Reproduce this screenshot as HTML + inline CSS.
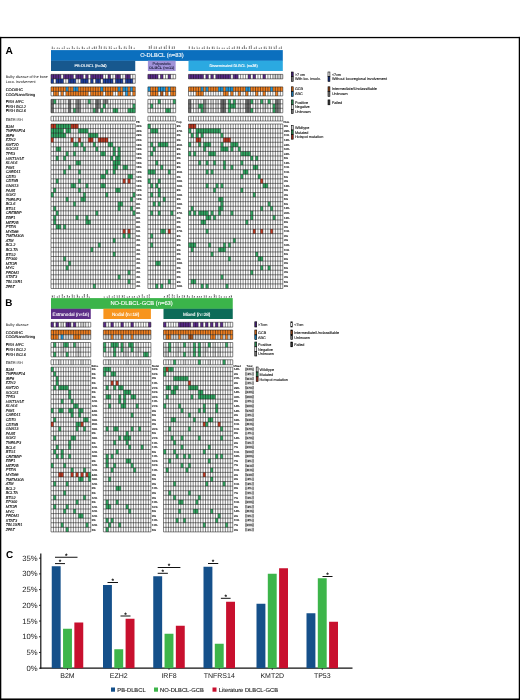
<!DOCTYPE html>
<html lang="en"><head><meta charset="utf-8"><title>Figure</title>
<style>html,body{margin:0;padding:0;background:#fff}svg{display:block}</style>
</head><body>
<svg width="520" height="700" viewBox="0 0 520 700" font-family='"Liberation Sans", sans-serif' text-rendering="geometricPrecision">
<rect x="0" y="0" width="520" height="700" fill="#fff"/>
<rect x="0" y="36.9" width="520" height="1.3" fill="#000"/>
<rect x="0" y="698.45" width="520" height="1.55" fill="#000"/>
<rect x="0" y="36.9" width="1.3" height="663.1" fill="#000"/>
<rect x="518.75" y="36.9" width="1.25" height="663.1" fill="#000"/>
<text x="5.6" y="53.9" font-size="10.2" fill="#000" font-weight="bold">A</text>
<text x="5.2" y="305.6" font-size="9.9" fill="#000" font-weight="bold">B</text>
<text x="5.9" y="557.7" font-size="9.9" fill="#000" font-weight="bold">C</text>
<text transform="translate(52.89 48.7) rotate(-90)" font-size="1.75" font-weight="bold" fill="#000">B6</text>
<text transform="translate(55.37 48.7) rotate(-90)" font-size="1.75" font-weight="bold" fill="#000">P</text>
<text transform="translate(57.84 48.7) rotate(-90)" font-size="1.75" font-weight="bold" fill="#000">D</text>
<text transform="translate(60.32 48.7) rotate(-90)" font-size="1.75" font-weight="bold" fill="#000">E</text>
<text transform="translate(62.8 48.7) rotate(-90)" font-size="1.75" font-weight="bold" fill="#000">P</text>
<text transform="translate(65.28 48.7) rotate(-90)" font-size="1.75" font-weight="bold" fill="#000">P4</text>
<text transform="translate(67.76 48.7) rotate(-90)" font-size="1.75" font-weight="bold" fill="#000">E</text>
<text transform="translate(70.23 48.7) rotate(-90)" font-size="1.75" font-weight="bold" fill="#000">E</text>
<text transform="translate(72.71 48.7) rotate(-90)" font-size="1.75" font-weight="bold" fill="#000">M9</text>
<text transform="translate(75.19 48.7) rotate(-90)" font-size="1.75" font-weight="bold" fill="#000">E</text>
<text transform="translate(77.67 48.7) rotate(-90)" font-size="1.75" font-weight="bold" fill="#000">P3</text>
<text transform="translate(80.15 48.7) rotate(-90)" font-size="1.75" font-weight="bold" fill="#000">E</text>
<text transform="translate(82.62 48.7) rotate(-90)" font-size="1.75" font-weight="bold" fill="#000">N2</text>
<text transform="translate(85.1 48.7) rotate(-90)" font-size="1.75" font-weight="bold" fill="#000">E</text>
<text transform="translate(87.58 48.7) rotate(-90)" font-size="1.75" font-weight="bold" fill="#000">P</text>
<text transform="translate(90.06 48.7) rotate(-90)" font-size="1.75" font-weight="bold" fill="#000">D2</text>
<text transform="translate(92.54 48.7) rotate(-90)" font-size="1.75" font-weight="bold" fill="#000">E</text>
<text transform="translate(95.01 48.7) rotate(-90)" font-size="1.75" font-weight="bold" fill="#000">N9</text>
<text transform="translate(97.49 48.7) rotate(-90)" font-size="1.75" font-weight="bold" fill="#000">D6</text>
<text transform="translate(99.97 48.7) rotate(-90)" font-size="1.75" font-weight="bold" fill="#000">D48</text>
<text transform="translate(102.45 48.7) rotate(-90)" font-size="1.75" font-weight="bold" fill="#000">B9</text>
<text transform="translate(104.93 48.7) rotate(-90)" font-size="1.75" font-weight="bold" fill="#000">P8</text>
<text transform="translate(107.4 48.7) rotate(-90)" font-size="1.75" font-weight="bold" fill="#000">E7</text>
<text transform="translate(109.88 48.7) rotate(-90)" font-size="1.75" font-weight="bold" fill="#000">M6</text>
<text transform="translate(112.36 48.7) rotate(-90)" font-size="1.75" font-weight="bold" fill="#000">E1</text>
<text transform="translate(114.84 48.7) rotate(-90)" font-size="1.75" font-weight="bold" fill="#000">E</text>
<text transform="translate(117.32 48.7) rotate(-90)" font-size="1.75" font-weight="bold" fill="#000">D</text>
<text transform="translate(119.79 48.7) rotate(-90)" font-size="1.75" font-weight="bold" fill="#000">N15</text>
<text transform="translate(122.27 48.7) rotate(-90)" font-size="1.75" font-weight="bold" fill="#000">E</text>
<text transform="translate(124.75 48.7) rotate(-90)" font-size="1.75" font-weight="bold" fill="#000">D9</text>
<text transform="translate(127.23 48.7) rotate(-90)" font-size="1.75" font-weight="bold" fill="#000">E7</text>
<text transform="translate(129.71 48.7) rotate(-90)" font-size="1.75" font-weight="bold" fill="#000">P21</text>
<text transform="translate(132.18 48.7) rotate(-90)" font-size="1.75" font-weight="bold" fill="#000">N9</text>
<text transform="translate(134.66 48.7) rotate(-90)" font-size="1.75" font-weight="bold" fill="#000">P</text>
<text transform="translate(149.81 48.7) rotate(-90)" font-size="1.75" font-weight="bold" fill="#000">M8</text>
<text transform="translate(152.33 48.7) rotate(-90)" font-size="1.75" font-weight="bold" fill="#000">D59</text>
<text transform="translate(154.86 48.7) rotate(-90)" font-size="1.75" font-weight="bold" fill="#000">P6</text>
<text transform="translate(157.38 48.7) rotate(-90)" font-size="1.75" font-weight="bold" fill="#000">B8</text>
<text transform="translate(159.9 48.7) rotate(-90)" font-size="1.75" font-weight="bold" fill="#000">N</text>
<text transform="translate(162.43 48.7) rotate(-90)" font-size="1.75" font-weight="bold" fill="#000">D2</text>
<text transform="translate(164.95 48.7) rotate(-90)" font-size="1.75" font-weight="bold" fill="#000">N6</text>
<text transform="translate(167.47 48.7) rotate(-90)" font-size="1.75" font-weight="bold" fill="#000">P31</text>
<text transform="translate(169.99 48.7) rotate(-90)" font-size="1.75" font-weight="bold" fill="#000">N80</text>
<text transform="translate(172.52 48.7) rotate(-90)" font-size="1.75" font-weight="bold" fill="#000">B6</text>
<text transform="translate(175.04 48.7) rotate(-90)" font-size="1.75" font-weight="bold" fill="#000">M6</text>
<text transform="translate(190.39 48.7) rotate(-90)" font-size="1.75" font-weight="bold" fill="#000">M5</text>
<text transform="translate(192.87 48.7) rotate(-90)" font-size="1.75" font-weight="bold" fill="#000">B2</text>
<text transform="translate(195.35 48.7) rotate(-90)" font-size="1.75" font-weight="bold" fill="#000">B</text>
<text transform="translate(197.84 48.7) rotate(-90)" font-size="1.75" font-weight="bold" fill="#000">P7</text>
<text transform="translate(200.32 48.7) rotate(-90)" font-size="1.75" font-weight="bold" fill="#000">D</text>
<text transform="translate(202.8 48.7) rotate(-90)" font-size="1.75" font-weight="bold" fill="#000">B</text>
<text transform="translate(205.28 48.7) rotate(-90)" font-size="1.75" font-weight="bold" fill="#000">E8</text>
<text transform="translate(207.76 48.7) rotate(-90)" font-size="1.75" font-weight="bold" fill="#000">B9</text>
<text transform="translate(210.24 48.7) rotate(-90)" font-size="1.75" font-weight="bold" fill="#000">N</text>
<text transform="translate(212.72 48.7) rotate(-90)" font-size="1.75" font-weight="bold" fill="#000">N6</text>
<text transform="translate(215.21 48.7) rotate(-90)" font-size="1.75" font-weight="bold" fill="#000">P7</text>
<text transform="translate(217.69 48.7) rotate(-90)" font-size="1.75" font-weight="bold" fill="#000">P3</text>
<text transform="translate(220.17 48.7) rotate(-90)" font-size="1.75" font-weight="bold" fill="#000">B</text>
<text transform="translate(222.65 48.7) rotate(-90)" font-size="1.75" font-weight="bold" fill="#000">P</text>
<text transform="translate(225.13 48.7) rotate(-90)" font-size="1.75" font-weight="bold" fill="#000">P</text>
<text transform="translate(227.61 48.7) rotate(-90)" font-size="1.75" font-weight="bold" fill="#000">E</text>
<text transform="translate(230.1 48.7) rotate(-90)" font-size="1.75" font-weight="bold" fill="#000">E1</text>
<text transform="translate(232.58 48.7) rotate(-90)" font-size="1.75" font-weight="bold" fill="#000">B</text>
<text transform="translate(235.06 48.7) rotate(-90)" font-size="1.75" font-weight="bold" fill="#000">B9</text>
<text transform="translate(237.54 48.7) rotate(-90)" font-size="1.75" font-weight="bold" fill="#000">D8</text>
<text transform="translate(240.02 48.7) rotate(-90)" font-size="1.75" font-weight="bold" fill="#000">N2</text>
<text transform="translate(242.5 48.7) rotate(-90)" font-size="1.75" font-weight="bold" fill="#000">N</text>
<text transform="translate(244.99 48.7) rotate(-90)" font-size="1.75" font-weight="bold" fill="#000">N49</text>
<text transform="translate(247.47 48.7) rotate(-90)" font-size="1.75" font-weight="bold" fill="#000">B</text>
<text transform="translate(249.95 48.7) rotate(-90)" font-size="1.75" font-weight="bold" fill="#000">M4</text>
<text transform="translate(252.43 48.7) rotate(-90)" font-size="1.75" font-weight="bold" fill="#000">M30</text>
<text transform="translate(254.91 48.7) rotate(-90)" font-size="1.75" font-weight="bold" fill="#000">B</text>
<text transform="translate(257.39 48.7) rotate(-90)" font-size="1.75" font-weight="bold" fill="#000">B9</text>
<text transform="translate(259.88 48.7) rotate(-90)" font-size="1.75" font-weight="bold" fill="#000">E</text>
<text transform="translate(262.36 48.7) rotate(-90)" font-size="1.75" font-weight="bold" fill="#000">M</text>
<text transform="translate(264.84 48.7) rotate(-90)" font-size="1.75" font-weight="bold" fill="#000">B5</text>
<text transform="translate(267.32 48.7) rotate(-90)" font-size="1.75" font-weight="bold" fill="#000">E7</text>
<text transform="translate(269.8 48.7) rotate(-90)" font-size="1.75" font-weight="bold" fill="#000">M3</text>
<text transform="translate(272.28 48.7) rotate(-90)" font-size="1.75" font-weight="bold" fill="#000">B6</text>
<text transform="translate(274.76 48.7) rotate(-90)" font-size="1.75" font-weight="bold" fill="#000">B7</text>
<text transform="translate(277.25 48.7) rotate(-90)" font-size="1.75" font-weight="bold" fill="#000">D13</text>
<text transform="translate(279.73 48.7) rotate(-90)" font-size="1.75" font-weight="bold" fill="#000">D</text>
<text transform="translate(282.21 48.7) rotate(-90)" font-size="1.75" font-weight="bold" fill="#000">B9</text>
<rect x="51" y="50.1" width="231.8" height="10.8" fill="#0B6FBE"/>
<text x="161.9" y="57.2" font-size="5.8" fill="#fff" text-anchor="middle" stroke="#fff" stroke-width="0.12">O-DLBCL (n=83)</text>
<rect x="51" y="60.75" width="84.25" height="10.25" fill="#17588E"/>
<text x="90.5" y="67.4" font-size="4" fill="#fff" text-anchor="middle" stroke="#fff" stroke-width="0.12">PB-DLBCL (n=34)</text>
<rect x="147.9" y="60.75" width="27.75" height="10.25" fill="#A092D8"/>
<text x="161.8" y="64.9" font-size="3.8" fill="#1b1b3a" text-anchor="middle" stroke="#1b1b3a" stroke-width="0.08">Polyostotic</text>
<text x="161.8" y="69.3" font-size="3.8" fill="#1b1b3a" text-anchor="middle" font-weight="bold">DLBCL (n=11)</text>
<rect x="188.5" y="60.75" width="94.3" height="10.25" fill="#2BA9E1"/>
<text x="233.6" y="67.3" font-size="3.8" fill="#fff" text-anchor="middle" stroke="#fff" stroke-width="0.12">Disseminated DLBCL (n=38)</text>
<rect x="51" y="74.4" width="84.25" height="8.9" fill="#fff"/>
<rect x="51" y="74.4" width="9.91" height="4.45" fill="#5B2A8C"/>
<rect x="63.39" y="74.4" width="9.91" height="4.45" fill="#5B2A8C"/>
<rect x="75.78" y="74.4" width="7.43" height="4.45" fill="#5B2A8C"/>
<rect x="85.69" y="74.4" width="2.48" height="4.45" fill="#5B2A8C"/>
<rect x="90.65" y="74.4" width="12.39" height="4.45" fill="#5B2A8C"/>
<rect x="107.99" y="74.4" width="2.48" height="4.45" fill="#5B2A8C"/>
<rect x="115.43" y="74.4" width="4.96" height="4.45" fill="#5B2A8C"/>
<rect x="125.34" y="74.4" width="4.96" height="4.45" fill="#5B2A8C"/>
<rect x="51" y="78.85" width="2.48" height="4.45" fill="#1D3FA3"/>
<rect x="55.96" y="78.85" width="7.43" height="4.45" fill="#1D3FA3"/>
<rect x="68.35" y="78.85" width="7.43" height="4.45" fill="#1D3FA3"/>
<rect x="80.74" y="78.85" width="7.43" height="4.45" fill="#1D3FA3"/>
<rect x="90.65" y="78.85" width="2.48" height="4.45" fill="#1D3FA3"/>
<rect x="95.6" y="78.85" width="4.96" height="4.45" fill="#1D3FA3"/>
<rect x="103.04" y="78.85" width="9.91" height="4.45" fill="#1D3FA3"/>
<rect x="115.43" y="78.85" width="7.43" height="4.45" fill="#1D3FA3"/>
<rect x="125.34" y="78.85" width="7.43" height="4.45" fill="#1D3FA3"/>
<path d="M51 74.4V83.3M53.48 74.4V83.3M55.96 74.4V83.3M58.43 74.4V83.3M60.91 74.4V83.3M63.39 74.4V83.3M65.87 74.4V83.3M68.35 74.4V83.3M70.82 74.4V83.3M73.3 74.4V83.3M75.78 74.4V83.3M78.26 74.4V83.3M80.74 74.4V83.3M83.21 74.4V83.3M85.69 74.4V83.3M88.17 74.4V83.3M90.65 74.4V83.3M93.12 74.4V83.3M95.6 74.4V83.3M98.08 74.4V83.3M100.56 74.4V83.3M103.04 74.4V83.3M105.51 74.4V83.3M107.99 74.4V83.3M110.47 74.4V83.3M112.95 74.4V83.3M115.43 74.4V83.3M117.9 74.4V83.3M120.38 74.4V83.3M122.86 74.4V83.3M125.34 74.4V83.3M127.82 74.4V83.3M130.29 74.4V83.3M132.77 74.4V83.3M135.25 74.4V83.3M51 74.4H135.25M51 78.85H135.25M51 83.3H135.25" fill="none" stroke="#111" stroke-width="0.52"/>
<rect x="51" y="86.9" width="84.25" height="9" fill="#fff"/>
<rect x="51" y="86.9" width="14.87" height="4.5" fill="#F58220"/>
<rect x="65.87" y="86.9" width="2.48" height="4.5" fill="#219BDD"/>
<rect x="68.35" y="86.9" width="4.96" height="4.5" fill="#F58220"/>
<rect x="73.3" y="86.9" width="4.96" height="4.5" fill="#219BDD"/>
<rect x="78.26" y="86.9" width="22.3" height="4.5" fill="#F58220"/>
<rect x="100.56" y="86.9" width="2.48" height="4.5" fill="#219BDD"/>
<rect x="103.04" y="86.9" width="14.87" height="4.5" fill="#F58220"/>
<rect x="117.9" y="86.9" width="2.48" height="4.5" fill="#219BDD"/>
<rect x="120.38" y="86.9" width="2.48" height="4.5" fill="#F58220"/>
<rect x="122.86" y="86.9" width="4.96" height="4.5" fill="#219BDD"/>
<rect x="127.82" y="86.9" width="2.48" height="4.5" fill="#F58220"/>
<rect x="130.29" y="86.9" width="2.48" height="4.5" fill="#219BDD"/>
<rect x="132.77" y="86.9" width="2.48" height="4.5" fill="#F58220"/>
<rect x="53.48" y="91.4" width="4.96" height="4.5" fill="#F58220"/>
<rect x="60.91" y="91.4" width="2.48" height="4.5" fill="#F58220"/>
<rect x="65.87" y="91.4" width="22.3" height="4.5" fill="#F58220"/>
<rect x="90.65" y="91.4" width="12.39" height="4.5" fill="#F58220"/>
<rect x="105.51" y="91.4" width="7.43" height="4.5" fill="#F58220"/>
<rect x="117.9" y="91.4" width="4.96" height="4.5" fill="#F58220"/>
<rect x="125.34" y="91.4" width="2.48" height="4.5" fill="#219BDD"/>
<rect x="127.82" y="91.4" width="2.48" height="4.5" fill="#F58220"/>
<rect x="132.77" y="91.4" width="2.48" height="4.5" fill="#F58220"/>
<path d="M51 86.9V95.9M53.48 86.9V95.9M55.96 86.9V95.9M58.43 86.9V95.9M60.91 86.9V95.9M63.39 86.9V95.9M65.87 86.9V95.9M68.35 86.9V95.9M70.82 86.9V95.9M73.3 86.9V95.9M75.78 86.9V95.9M78.26 86.9V95.9M80.74 86.9V95.9M83.21 86.9V95.9M85.69 86.9V95.9M88.17 86.9V95.9M90.65 86.9V95.9M93.12 86.9V95.9M95.6 86.9V95.9M98.08 86.9V95.9M100.56 86.9V95.9M103.04 86.9V95.9M105.51 86.9V95.9M107.99 86.9V95.9M110.47 86.9V95.9M112.95 86.9V95.9M115.43 86.9V95.9M117.9 86.9V95.9M120.38 86.9V95.9M122.86 86.9V95.9M125.34 86.9V95.9M127.82 86.9V95.9M130.29 86.9V95.9M132.77 86.9V95.9M135.25 86.9V95.9M51 86.9H135.25M51 91.4H135.25M51 95.9H135.25" fill="none" stroke="#111" stroke-width="0.52"/>
<rect x="51" y="99.4" width="84.25" height="13.35" fill="#fff"/>
<rect x="51" y="99.4" width="2.48" height="4.45" fill="#707070"/>
<rect x="53.48" y="99.4" width="2.48" height="4.45" fill="#33AD66"/>
<rect x="58.43" y="99.4" width="2.48" height="4.45" fill="#DADADA"/>
<rect x="63.39" y="99.4" width="2.48" height="4.45" fill="#DADADA"/>
<rect x="68.35" y="99.4" width="2.48" height="4.45" fill="#707070"/>
<rect x="75.78" y="99.4" width="4.96" height="4.45" fill="#8E8E8E"/>
<rect x="85.69" y="99.4" width="2.48" height="4.45" fill="#DADADA"/>
<rect x="88.17" y="99.4" width="2.48" height="4.45" fill="#33AD66"/>
<rect x="90.65" y="99.4" width="2.48" height="4.45" fill="#DADADA"/>
<rect x="95.6" y="99.4" width="2.48" height="4.45" fill="#707070"/>
<rect x="98.08" y="99.4" width="2.48" height="4.45" fill="#8E8E8E"/>
<rect x="103.04" y="99.4" width="4.96" height="4.45" fill="#8E8E8E"/>
<rect x="51" y="103.85" width="2.48" height="4.45" fill="#707070"/>
<rect x="58.43" y="103.85" width="2.48" height="4.45" fill="#DADADA"/>
<rect x="68.35" y="103.85" width="2.48" height="4.45" fill="#707070"/>
<rect x="75.78" y="103.85" width="4.96" height="4.45" fill="#8E8E8E"/>
<rect x="85.69" y="103.85" width="2.48" height="4.45" fill="#DADADA"/>
<rect x="90.65" y="103.85" width="2.48" height="4.45" fill="#DADADA"/>
<rect x="95.6" y="103.85" width="2.48" height="4.45" fill="#707070"/>
<rect x="98.08" y="103.85" width="2.48" height="4.45" fill="#8E8E8E"/>
<rect x="103.04" y="103.85" width="2.48" height="4.45" fill="#33AD66"/>
<rect x="107.99" y="103.85" width="2.48" height="4.45" fill="#DADADA"/>
<rect x="132.77" y="103.85" width="2.48" height="4.45" fill="#33AD66"/>
<rect x="51" y="108.3" width="2.48" height="4.45" fill="#707070"/>
<rect x="63.39" y="108.3" width="2.48" height="4.45" fill="#DADADA"/>
<rect x="68.35" y="108.3" width="2.48" height="4.45" fill="#707070"/>
<rect x="73.3" y="108.3" width="2.48" height="4.45" fill="#33AD66"/>
<rect x="75.78" y="108.3" width="4.96" height="4.45" fill="#8E8E8E"/>
<rect x="90.65" y="108.3" width="2.48" height="4.45" fill="#DADADA"/>
<rect x="93.12" y="108.3" width="2.48" height="4.45" fill="#33AD66"/>
<rect x="95.6" y="108.3" width="2.48" height="4.45" fill="#707070"/>
<rect x="100.56" y="108.3" width="2.48" height="4.45" fill="#33AD66"/>
<rect x="105.51" y="108.3" width="2.48" height="4.45" fill="#DADADA"/>
<rect x="112.95" y="108.3" width="4.96" height="4.45" fill="#33AD66"/>
<rect x="127.82" y="108.3" width="7.43" height="4.45" fill="#33AD66"/>
<path d="M51 99.4V112.75M53.48 99.4V112.75M55.96 99.4V112.75M58.43 99.4V112.75M60.91 99.4V112.75M63.39 99.4V112.75M65.87 99.4V112.75M68.35 99.4V112.75M70.82 99.4V112.75M73.3 99.4V112.75M75.78 99.4V112.75M78.26 99.4V112.75M80.74 99.4V112.75M83.21 99.4V112.75M85.69 99.4V112.75M88.17 99.4V112.75M90.65 99.4V112.75M93.12 99.4V112.75M95.6 99.4V112.75M98.08 99.4V112.75M100.56 99.4V112.75M103.04 99.4V112.75M105.51 99.4V112.75M107.99 99.4V112.75M110.47 99.4V112.75M112.95 99.4V112.75M115.43 99.4V112.75M117.9 99.4V112.75M120.38 99.4V112.75M122.86 99.4V112.75M125.34 99.4V112.75M127.82 99.4V112.75M130.29 99.4V112.75M132.77 99.4V112.75M135.25 99.4V112.75M51 99.4H135.25M51 103.85H135.25M51 108.3H135.25M51 112.75H135.25" fill="none" stroke="#111" stroke-width="0.52"/>
<rect x="51" y="116.25" width="84.25" height="4.75" fill="#fff"/>
<path d="M51 116.25V121M53.48 116.25V121M55.96 116.25V121M58.43 116.25V121M60.91 116.25V121M63.39 116.25V121M65.87 116.25V121M68.35 116.25V121M70.82 116.25V121M73.3 116.25V121M75.78 116.25V121M78.26 116.25V121M80.74 116.25V121M83.21 116.25V121M85.69 116.25V121M88.17 116.25V121M90.65 116.25V121M93.12 116.25V121M95.6 116.25V121M98.08 116.25V121M100.56 116.25V121M103.04 116.25V121M105.51 116.25V121M107.99 116.25V121M110.47 116.25V121M112.95 116.25V121M115.43 116.25V121M117.9 116.25V121M120.38 116.25V121M122.86 116.25V121M125.34 116.25V121M127.82 116.25V121M130.29 116.25V121M132.77 116.25V121M135.25 116.25V121M51 116.25H135.25M51 121H135.25" fill="none" stroke="#111" stroke-width="0.52"/>
<rect x="51" y="124" width="84.25" height="164.5" fill="#fff"/>
<rect x="51" y="124" width="4.96" height="4.57" fill="#C43C24"/>
<rect x="55.96" y="124" width="14.87" height="4.57" fill="#33AD66"/>
<rect x="70.82" y="124" width="7.43" height="4.57" fill="#C43C24"/>
<rect x="51" y="128.57" width="12.39" height="4.57" fill="#33AD66"/>
<rect x="65.87" y="128.57" width="4.96" height="4.57" fill="#33AD66"/>
<rect x="78.26" y="128.57" width="9.91" height="4.57" fill="#33AD66"/>
<rect x="51" y="133.14" width="14.87" height="4.57" fill="#33AD66"/>
<rect x="88.17" y="133.14" width="9.91" height="4.57" fill="#33AD66"/>
<rect x="51" y="137.71" width="2.48" height="4.57" fill="#C43C24"/>
<rect x="70.82" y="137.71" width="2.48" height="4.57" fill="#C43C24"/>
<rect x="78.26" y="137.71" width="2.48" height="4.57" fill="#C43C24"/>
<rect x="88.17" y="137.71" width="4.96" height="4.57" fill="#C43C24"/>
<rect x="98.08" y="137.71" width="9.91" height="4.57" fill="#C43C24"/>
<rect x="73.3" y="142.28" width="4.96" height="4.57" fill="#33AD66"/>
<rect x="80.74" y="142.28" width="2.48" height="4.57" fill="#33AD66"/>
<rect x="93.12" y="142.28" width="2.48" height="4.57" fill="#33AD66"/>
<rect x="107.99" y="142.28" width="4.96" height="4.57" fill="#33AD66"/>
<rect x="55.96" y="146.85" width="4.96" height="4.57" fill="#33AD66"/>
<rect x="83.21" y="146.85" width="2.48" height="4.57" fill="#33AD66"/>
<rect x="95.6" y="146.85" width="2.48" height="4.57" fill="#33AD66"/>
<rect x="112.95" y="146.85" width="2.48" height="4.57" fill="#33AD66"/>
<rect x="117.9" y="146.85" width="2.48" height="4.57" fill="#33AD66"/>
<rect x="65.87" y="151.42" width="2.48" height="4.57" fill="#33AD66"/>
<rect x="73.3" y="151.42" width="2.48" height="4.57" fill="#33AD66"/>
<rect x="100.56" y="151.42" width="4.96" height="4.57" fill="#33AD66"/>
<rect x="112.95" y="151.42" width="2.48" height="4.57" fill="#33AD66"/>
<rect x="117.9" y="151.42" width="2.48" height="4.57" fill="#33AD66"/>
<rect x="55.96" y="155.99" width="2.48" height="4.57" fill="#33AD66"/>
<rect x="63.39" y="155.99" width="2.48" height="4.57" fill="#33AD66"/>
<rect x="110.47" y="155.99" width="2.48" height="4.57" fill="#33AD66"/>
<rect x="115.43" y="155.99" width="4.96" height="4.57" fill="#33AD66"/>
<rect x="75.78" y="160.56" width="4.96" height="4.57" fill="#33AD66"/>
<rect x="112.95" y="160.56" width="7.43" height="4.57" fill="#33AD66"/>
<rect x="68.35" y="165.12" width="2.48" height="4.57" fill="#33AD66"/>
<rect x="112.95" y="165.12" width="4.96" height="4.57" fill="#33AD66"/>
<rect x="122.86" y="165.12" width="4.96" height="4.57" fill="#33AD66"/>
<rect x="63.39" y="169.69" width="2.48" height="4.57" fill="#33AD66"/>
<rect x="78.26" y="169.69" width="2.48" height="4.57" fill="#33AD66"/>
<rect x="105.51" y="169.69" width="2.48" height="4.57" fill="#33AD66"/>
<rect x="112.95" y="169.69" width="2.48" height="4.57" fill="#33AD66"/>
<rect x="100.56" y="174.26" width="4.96" height="4.57" fill="#33AD66"/>
<rect x="127.82" y="174.26" width="4.96" height="4.57" fill="#33AD66"/>
<rect x="55.96" y="178.83" width="2.48" height="4.57" fill="#33AD66"/>
<rect x="78.26" y="178.83" width="2.48" height="4.57" fill="#33AD66"/>
<rect x="122.86" y="178.83" width="2.48" height="4.57" fill="#C43C24"/>
<rect x="127.82" y="178.83" width="2.48" height="4.57" fill="#C43C24"/>
<rect x="70.82" y="183.4" width="4.96" height="4.57" fill="#33AD66"/>
<rect x="85.69" y="183.4" width="2.48" height="4.57" fill="#33AD66"/>
<rect x="100.56" y="183.4" width="4.96" height="4.57" fill="#33AD66"/>
<rect x="53.48" y="187.97" width="2.48" height="4.57" fill="#33AD66"/>
<rect x="78.26" y="187.97" width="2.48" height="4.57" fill="#33AD66"/>
<rect x="115.43" y="187.97" width="4.96" height="4.57" fill="#33AD66"/>
<rect x="51" y="192.54" width="2.48" height="4.57" fill="#33AD66"/>
<rect x="83.21" y="192.54" width="2.48" height="4.57" fill="#33AD66"/>
<rect x="105.51" y="192.54" width="2.48" height="4.57" fill="#33AD66"/>
<rect x="132.77" y="192.54" width="2.48" height="4.57" fill="#33AD66"/>
<rect x="65.87" y="197.11" width="2.48" height="4.57" fill="#33AD66"/>
<rect x="80.74" y="197.11" width="4.96" height="4.57" fill="#33AD66"/>
<rect x="130.29" y="197.11" width="2.48" height="4.57" fill="#33AD66"/>
<rect x="73.3" y="201.68" width="2.48" height="4.57" fill="#33AD66"/>
<rect x="117.9" y="201.68" width="4.96" height="4.57" fill="#33AD66"/>
<rect x="53.48" y="206.25" width="2.48" height="4.57" fill="#33AD66"/>
<rect x="117.9" y="206.25" width="2.48" height="4.57" fill="#33AD66"/>
<rect x="130.29" y="206.25" width="2.48" height="4.57" fill="#33AD66"/>
<rect x="55.96" y="210.82" width="2.48" height="4.57" fill="#33AD66"/>
<rect x="95.6" y="210.82" width="2.48" height="4.57" fill="#33AD66"/>
<rect x="132.77" y="210.82" width="2.48" height="4.57" fill="#33AD66"/>
<rect x="53.48" y="215.39" width="2.48" height="4.57" fill="#33AD66"/>
<rect x="75.78" y="215.39" width="2.48" height="4.57" fill="#33AD66"/>
<rect x="85.69" y="215.39" width="2.48" height="4.57" fill="#33AD66"/>
<rect x="53.48" y="219.96" width="2.48" height="4.57" fill="#33AD66"/>
<rect x="85.69" y="219.96" width="4.96" height="4.57" fill="#33AD66"/>
<rect x="55.96" y="224.53" width="4.96" height="4.57" fill="#33AD66"/>
<rect x="63.39" y="224.53" width="2.48" height="4.57" fill="#33AD66"/>
<rect x="122.86" y="229.1" width="2.48" height="4.57" fill="#C43C24"/>
<rect x="127.82" y="229.1" width="2.48" height="4.57" fill="#C43C24"/>
<rect x="122.86" y="233.67" width="2.48" height="4.57" fill="#33AD66"/>
<rect x="127.82" y="233.67" width="2.48" height="4.57" fill="#33AD66"/>
<rect x="112.95" y="238.24" width="2.48" height="4.57" fill="#33AD66"/>
<rect x="98.08" y="242.81" width="2.48" height="4.57" fill="#33AD66"/>
<rect x="90.65" y="247.38" width="2.48" height="4.57" fill="#33AD66"/>
<rect x="112.95" y="251.94" width="2.48" height="4.57" fill="#33AD66"/>
<rect x="63.39" y="256.51" width="2.48" height="4.57" fill="#33AD66"/>
<rect x="68.35" y="261.08" width="2.48" height="4.57" fill="#33AD66"/>
<rect x="65.87" y="265.65" width="2.48" height="4.57" fill="#33AD66"/>
<rect x="127.82" y="270.22" width="2.48" height="4.57" fill="#33AD66"/>
<rect x="117.9" y="274.79" width="2.48" height="4.57" fill="#33AD66"/>
<rect x="127.82" y="279.36" width="2.48" height="4.57" fill="#33AD66"/>
<rect x="93.12" y="283.93" width="2.48" height="4.57" fill="#33AD66"/>
<path d="M51 124V288.5M53.48 124V288.5M55.96 124V288.5M58.43 124V288.5M60.91 124V288.5M63.39 124V288.5M65.87 124V288.5M68.35 124V288.5M70.82 124V288.5M73.3 124V288.5M75.78 124V288.5M78.26 124V288.5M80.74 124V288.5M83.21 124V288.5M85.69 124V288.5M88.17 124V288.5M90.65 124V288.5M93.12 124V288.5M95.6 124V288.5M98.08 124V288.5M100.56 124V288.5M103.04 124V288.5M105.51 124V288.5M107.99 124V288.5M110.47 124V288.5M112.95 124V288.5M115.43 124V288.5M117.9 124V288.5M120.38 124V288.5M122.86 124V288.5M125.34 124V288.5M127.82 124V288.5M130.29 124V288.5M132.77 124V288.5M135.25 124V288.5M51 124H135.25M51 128.57H135.25M51 133.14H135.25M51 137.71H135.25M51 142.28H135.25M51 146.85H135.25M51 151.42H135.25M51 155.99H135.25M51 160.56H135.25M51 165.12H135.25M51 169.69H135.25M51 174.26H135.25M51 178.83H135.25M51 183.4H135.25M51 187.97H135.25M51 192.54H135.25M51 197.11H135.25M51 201.68H135.25M51 206.25H135.25M51 210.82H135.25M51 215.39H135.25M51 219.96H135.25M51 224.53H135.25M51 229.1H135.25M51 233.67H135.25M51 238.24H135.25M51 242.81H135.25M51 247.38H135.25M51 251.94H135.25M51 256.51H135.25M51 261.08H135.25M51 265.65H135.25M51 270.22H135.25M51 274.79H135.25M51 279.36H135.25M51 283.93H135.25M51 288.5H135.25" fill="none" stroke="#111" stroke-width="0.52"/>
<rect x="147.9" y="74.4" width="27.75" height="4.45" fill="#fff"/>
<rect x="147.9" y="74.4" width="10.09" height="4.45" fill="#5B2A8C"/>
<rect x="160.51" y="74.4" width="2.52" height="4.45" fill="#5B2A8C"/>
<rect x="168.08" y="74.4" width="2.52" height="4.45" fill="#5B2A8C"/>
<path d="M147.9 74.4V78.85M150.42 74.4V78.85M152.95 74.4V78.85M155.47 74.4V78.85M157.99 74.4V78.85M160.51 74.4V78.85M163.04 74.4V78.85M165.56 74.4V78.85M168.08 74.4V78.85M170.6 74.4V78.85M173.13 74.4V78.85M175.65 74.4V78.85M147.9 74.4H175.65M147.9 78.85H175.65" fill="none" stroke="#111" stroke-width="0.52"/>
<rect x="147.9" y="86.9" width="27.75" height="9" fill="#fff"/>
<rect x="147.9" y="86.9" width="2.52" height="4.5" fill="#219BDD"/>
<rect x="150.42" y="86.9" width="7.57" height="4.5" fill="#F58220"/>
<rect x="157.99" y="86.9" width="7.57" height="4.5" fill="#219BDD"/>
<rect x="165.56" y="86.9" width="2.52" height="4.5" fill="#F58220"/>
<rect x="168.08" y="86.9" width="2.52" height="4.5" fill="#219BDD"/>
<rect x="170.6" y="86.9" width="5.05" height="4.5" fill="#F58220"/>
<rect x="150.42" y="91.4" width="7.57" height="4.5" fill="#F58220"/>
<rect x="160.51" y="91.4" width="2.52" height="4.5" fill="#B8591A"/>
<rect x="165.56" y="91.4" width="2.52" height="4.5" fill="#F58220"/>
<rect x="170.6" y="91.4" width="5.05" height="4.5" fill="#F58220"/>
<path d="M147.9 86.9V95.9M150.42 86.9V95.9M152.95 86.9V95.9M155.47 86.9V95.9M157.99 86.9V95.9M160.51 86.9V95.9M163.04 86.9V95.9M165.56 86.9V95.9M168.08 86.9V95.9M170.6 86.9V95.9M173.13 86.9V95.9M175.65 86.9V95.9M147.9 86.9H175.65M147.9 91.4H175.65M147.9 95.9H175.65" fill="none" stroke="#111" stroke-width="0.52"/>
<rect x="147.9" y="99.4" width="27.75" height="13.35" fill="#fff"/>
<rect x="157.99" y="99.4" width="2.52" height="4.45" fill="#33AD66"/>
<rect x="173.13" y="99.4" width="2.52" height="4.45" fill="#33AD66"/>
<rect x="150.42" y="103.85" width="2.52" height="4.45" fill="#33AD66"/>
<rect x="165.56" y="108.3" width="5.05" height="4.45" fill="#33AD66"/>
<path d="M147.9 99.4V112.75M150.42 99.4V112.75M152.95 99.4V112.75M155.47 99.4V112.75M157.99 99.4V112.75M160.51 99.4V112.75M163.04 99.4V112.75M165.56 99.4V112.75M168.08 99.4V112.75M170.6 99.4V112.75M173.13 99.4V112.75M175.65 99.4V112.75M147.9 99.4H175.65M147.9 103.85H175.65M147.9 108.3H175.65M147.9 112.75H175.65" fill="none" stroke="#111" stroke-width="0.52"/>
<rect x="147.9" y="116.25" width="27.75" height="4.75" fill="#fff"/>
<path d="M147.9 116.25V121M150.42 116.25V121M152.95 116.25V121M155.47 116.25V121M157.99 116.25V121M160.51 116.25V121M163.04 116.25V121M165.56 116.25V121M168.08 116.25V121M170.6 116.25V121M173.13 116.25V121M175.65 116.25V121M147.9 116.25H175.65M147.9 121H175.65" fill="none" stroke="#111" stroke-width="0.52"/>
<rect x="147.9" y="124" width="27.75" height="164.5" fill="#fff"/>
<rect x="147.9" y="124" width="2.52" height="4.57" fill="#33AD66"/>
<rect x="150.42" y="128.57" width="7.57" height="4.57" fill="#33AD66"/>
<rect x="150.42" y="142.28" width="2.52" height="4.57" fill="#33AD66"/>
<rect x="157.99" y="142.28" width="10.09" height="4.57" fill="#33AD66"/>
<rect x="152.95" y="146.85" width="2.52" height="4.57" fill="#33AD66"/>
<rect x="150.42" y="151.42" width="2.52" height="4.57" fill="#33AD66"/>
<rect x="155.47" y="160.56" width="2.52" height="4.57" fill="#33AD66"/>
<rect x="160.51" y="165.12" width="2.52" height="4.57" fill="#33AD66"/>
<rect x="147.9" y="169.69" width="7.57" height="4.57" fill="#33AD66"/>
<rect x="168.08" y="169.69" width="2.52" height="4.57" fill="#33AD66"/>
<rect x="147.9" y="178.83" width="2.52" height="4.57" fill="#33AD66"/>
<rect x="157.99" y="178.83" width="2.52" height="4.57" fill="#33AD66"/>
<rect x="150.42" y="183.4" width="2.52" height="4.57" fill="#33AD66"/>
<rect x="155.47" y="183.4" width="2.52" height="4.57" fill="#33AD66"/>
<rect x="157.99" y="187.97" width="2.52" height="4.57" fill="#33AD66"/>
<rect x="150.42" y="192.54" width="2.52" height="4.57" fill="#33AD66"/>
<rect x="157.99" y="192.54" width="2.52" height="4.57" fill="#33AD66"/>
<rect x="163.04" y="197.11" width="2.52" height="4.57" fill="#33AD66"/>
<rect x="152.95" y="201.68" width="2.52" height="4.57" fill="#33AD66"/>
<rect x="157.99" y="201.68" width="2.52" height="4.57" fill="#33AD66"/>
<rect x="150.42" y="210.82" width="2.52" height="4.57" fill="#33AD66"/>
<rect x="157.99" y="210.82" width="2.52" height="4.57" fill="#33AD66"/>
<rect x="170.6" y="210.82" width="2.52" height="4.57" fill="#33AD66"/>
<rect x="160.51" y="229.1" width="5.05" height="4.57" fill="#33AD66"/>
<rect x="168.08" y="229.1" width="2.52" height="4.57" fill="#C43C24"/>
<rect x="150.42" y="233.67" width="2.52" height="4.57" fill="#33AD66"/>
<rect x="150.42" y="242.81" width="2.52" height="4.57" fill="#33AD66"/>
<rect x="155.47" y="261.08" width="5.05" height="4.57" fill="#33AD66"/>
<rect x="168.08" y="279.36" width="2.52" height="4.57" fill="#33AD66"/>
<rect x="155.47" y="283.93" width="2.52" height="4.57" fill="#33AD66"/>
<rect x="160.51" y="283.93" width="2.52" height="4.57" fill="#33AD66"/>
<path d="M147.9 124V288.5M150.42 124V288.5M152.95 124V288.5M155.47 124V288.5M157.99 124V288.5M160.51 124V288.5M163.04 124V288.5M165.56 124V288.5M168.08 124V288.5M170.6 124V288.5M173.13 124V288.5M175.65 124V288.5M147.9 124H175.65M147.9 128.57H175.65M147.9 133.14H175.65M147.9 137.71H175.65M147.9 142.28H175.65M147.9 146.85H175.65M147.9 151.42H175.65M147.9 155.99H175.65M147.9 160.56H175.65M147.9 165.12H175.65M147.9 169.69H175.65M147.9 174.26H175.65M147.9 178.83H175.65M147.9 183.4H175.65M147.9 187.97H175.65M147.9 192.54H175.65M147.9 197.11H175.65M147.9 201.68H175.65M147.9 206.25H175.65M147.9 210.82H175.65M147.9 215.39H175.65M147.9 219.96H175.65M147.9 224.53H175.65M147.9 229.1H175.65M147.9 233.67H175.65M147.9 238.24H175.65M147.9 242.81H175.65M147.9 247.38H175.65M147.9 251.94H175.65M147.9 256.51H175.65M147.9 261.08H175.65M147.9 265.65H175.65M147.9 270.22H175.65M147.9 274.79H175.65M147.9 279.36H175.65M147.9 283.93H175.65M147.9 288.5H175.65" fill="none" stroke="#111" stroke-width="0.52"/>
<rect x="188.5" y="74.4" width="94.3" height="4.45" fill="#fff"/>
<rect x="188.5" y="74.4" width="14.89" height="4.45" fill="#5B2A8C"/>
<rect x="205.87" y="74.4" width="2.48" height="4.45" fill="#5B2A8C"/>
<rect x="210.83" y="74.4" width="2.48" height="4.45" fill="#5B2A8C"/>
<rect x="215.8" y="74.4" width="14.89" height="4.45" fill="#5B2A8C"/>
<rect x="233.17" y="74.4" width="4.96" height="4.45" fill="#5B2A8C"/>
<rect x="248.06" y="74.4" width="2.48" height="4.45" fill="#5B2A8C"/>
<rect x="253.02" y="74.4" width="2.48" height="4.45" fill="#5B2A8C"/>
<rect x="262.95" y="74.4" width="2.48" height="4.45" fill="#5B2A8C"/>
<rect x="272.87" y="74.4" width="9.93" height="4.45" fill="#DADADA"/>
<path d="M188.5 74.4V78.85M190.98 74.4V78.85M193.46 74.4V78.85M195.94 74.4V78.85M198.43 74.4V78.85M200.91 74.4V78.85M203.39 74.4V78.85M205.87 74.4V78.85M208.35 74.4V78.85M210.83 74.4V78.85M213.32 74.4V78.85M215.8 74.4V78.85M218.28 74.4V78.85M220.76 74.4V78.85M223.24 74.4V78.85M225.72 74.4V78.85M228.21 74.4V78.85M230.69 74.4V78.85M233.17 74.4V78.85M235.65 74.4V78.85M238.13 74.4V78.85M240.61 74.4V78.85M243.09 74.4V78.85M245.58 74.4V78.85M248.06 74.4V78.85M250.54 74.4V78.85M253.02 74.4V78.85M255.5 74.4V78.85M257.98 74.4V78.85M260.47 74.4V78.85M262.95 74.4V78.85M265.43 74.4V78.85M267.91 74.4V78.85M270.39 74.4V78.85M272.87 74.4V78.85M275.36 74.4V78.85M277.84 74.4V78.85M280.32 74.4V78.85M282.8 74.4V78.85M188.5 74.4H282.8M188.5 78.85H282.8" fill="none" stroke="#111" stroke-width="0.52"/>
<rect x="188.5" y="86.9" width="94.3" height="9" fill="#fff"/>
<rect x="188.5" y="86.9" width="12.41" height="4.5" fill="#F58220"/>
<rect x="200.91" y="86.9" width="2.48" height="4.5" fill="#219BDD"/>
<rect x="203.39" y="86.9" width="2.48" height="4.5" fill="#F58220"/>
<rect x="205.87" y="86.9" width="2.48" height="4.5" fill="#219BDD"/>
<rect x="208.35" y="86.9" width="9.93" height="4.5" fill="#F58220"/>
<rect x="218.28" y="86.9" width="4.96" height="4.5" fill="#219BDD"/>
<rect x="223.24" y="86.9" width="2.48" height="4.5" fill="#F58220"/>
<rect x="225.72" y="86.9" width="7.44" height="4.5" fill="#219BDD"/>
<rect x="233.17" y="86.9" width="12.41" height="4.5" fill="#F58220"/>
<rect x="245.58" y="86.9" width="4.96" height="4.5" fill="#219BDD"/>
<rect x="250.54" y="86.9" width="19.85" height="4.5" fill="#F58220"/>
<rect x="270.39" y="86.9" width="2.48" height="4.5" fill="#219BDD"/>
<rect x="272.87" y="86.9" width="9.93" height="4.5" fill="#F58220"/>
<rect x="195.94" y="91.4" width="7.44" height="4.5" fill="#F58220"/>
<rect x="223.24" y="91.4" width="4.96" height="4.5" fill="#F58220"/>
<rect x="230.69" y="91.4" width="2.48" height="4.5" fill="#F58220"/>
<rect x="238.13" y="91.4" width="2.48" height="4.5" fill="#F58220"/>
<rect x="245.58" y="91.4" width="2.48" height="4.5" fill="#F58220"/>
<rect x="255.5" y="91.4" width="2.48" height="4.5" fill="#F58220"/>
<rect x="262.95" y="91.4" width="2.48" height="4.5" fill="#F58220"/>
<rect x="275.36" y="91.4" width="2.48" height="4.5" fill="#F58220"/>
<path d="M188.5 86.9V95.9M190.98 86.9V95.9M193.46 86.9V95.9M195.94 86.9V95.9M198.43 86.9V95.9M200.91 86.9V95.9M203.39 86.9V95.9M205.87 86.9V95.9M208.35 86.9V95.9M210.83 86.9V95.9M213.32 86.9V95.9M215.8 86.9V95.9M218.28 86.9V95.9M220.76 86.9V95.9M223.24 86.9V95.9M225.72 86.9V95.9M228.21 86.9V95.9M230.69 86.9V95.9M233.17 86.9V95.9M235.65 86.9V95.9M238.13 86.9V95.9M240.61 86.9V95.9M243.09 86.9V95.9M245.58 86.9V95.9M248.06 86.9V95.9M250.54 86.9V95.9M253.02 86.9V95.9M255.5 86.9V95.9M257.98 86.9V95.9M260.47 86.9V95.9M262.95 86.9V95.9M265.43 86.9V95.9M267.91 86.9V95.9M270.39 86.9V95.9M272.87 86.9V95.9M275.36 86.9V95.9M277.84 86.9V95.9M280.32 86.9V95.9M282.8 86.9V95.9M188.5 86.9H282.8M188.5 91.4H282.8M188.5 95.9H282.8" fill="none" stroke="#111" stroke-width="0.52"/>
<rect x="188.5" y="99.4" width="94.3" height="13.35" fill="#fff"/>
<rect x="188.5" y="99.4" width="2.48" height="4.45" fill="#707070"/>
<rect x="195.94" y="99.4" width="2.48" height="4.45" fill="#DADADA"/>
<rect x="203.39" y="99.4" width="2.48" height="4.45" fill="#8E8E8E"/>
<rect x="205.87" y="99.4" width="2.48" height="4.45" fill="#DADADA"/>
<rect x="210.83" y="99.4" width="2.48" height="4.45" fill="#DADADA"/>
<rect x="215.8" y="99.4" width="2.48" height="4.45" fill="#DADADA"/>
<rect x="220.76" y="99.4" width="4.96" height="4.45" fill="#707070"/>
<rect x="228.21" y="99.4" width="2.48" height="4.45" fill="#33AD66"/>
<rect x="233.17" y="99.4" width="2.48" height="4.45" fill="#33AD66"/>
<rect x="238.13" y="99.4" width="2.48" height="4.45" fill="#DADADA"/>
<rect x="245.58" y="99.4" width="4.96" height="4.45" fill="#707070"/>
<rect x="250.54" y="99.4" width="2.48" height="4.45" fill="#33AD66"/>
<rect x="255.5" y="99.4" width="2.48" height="4.45" fill="#DADADA"/>
<rect x="260.47" y="99.4" width="2.48" height="4.45" fill="#33AD66"/>
<rect x="262.95" y="99.4" width="2.48" height="4.45" fill="#DADADA"/>
<rect x="267.91" y="99.4" width="2.48" height="4.45" fill="#33AD66"/>
<rect x="275.36" y="99.4" width="2.48" height="4.45" fill="#707070"/>
<rect x="277.84" y="99.4" width="2.48" height="4.45" fill="#8E8E8E"/>
<rect x="188.5" y="103.85" width="2.48" height="4.45" fill="#707070"/>
<rect x="190.98" y="103.85" width="2.48" height="4.45" fill="#DADADA"/>
<rect x="195.94" y="103.85" width="2.48" height="4.45" fill="#DADADA"/>
<rect x="198.43" y="103.85" width="4.96" height="4.45" fill="#33AD66"/>
<rect x="203.39" y="103.85" width="2.48" height="4.45" fill="#8E8E8E"/>
<rect x="205.87" y="103.85" width="2.48" height="4.45" fill="#DADADA"/>
<rect x="210.83" y="103.85" width="2.48" height="4.45" fill="#DADADA"/>
<rect x="215.8" y="103.85" width="2.48" height="4.45" fill="#DADADA"/>
<rect x="220.76" y="103.85" width="4.96" height="4.45" fill="#707070"/>
<rect x="228.21" y="103.85" width="7.44" height="4.45" fill="#33AD66"/>
<rect x="238.13" y="103.85" width="2.48" height="4.45" fill="#DADADA"/>
<rect x="243.09" y="103.85" width="2.48" height="4.45" fill="#DADADA"/>
<rect x="245.58" y="103.85" width="4.96" height="4.45" fill="#707070"/>
<rect x="255.5" y="103.85" width="2.48" height="4.45" fill="#DADADA"/>
<rect x="262.95" y="103.85" width="4.96" height="4.45" fill="#DADADA"/>
<rect x="272.87" y="103.85" width="2.48" height="4.45" fill="#33AD66"/>
<rect x="275.36" y="103.85" width="2.48" height="4.45" fill="#707070"/>
<rect x="277.84" y="103.85" width="2.48" height="4.45" fill="#8E8E8E"/>
<rect x="188.5" y="108.3" width="2.48" height="4.45" fill="#707070"/>
<rect x="195.94" y="108.3" width="2.48" height="4.45" fill="#DADADA"/>
<rect x="200.91" y="108.3" width="2.48" height="4.45" fill="#33AD66"/>
<rect x="203.39" y="108.3" width="2.48" height="4.45" fill="#8E8E8E"/>
<rect x="205.87" y="108.3" width="2.48" height="4.45" fill="#DADADA"/>
<rect x="210.83" y="108.3" width="2.48" height="4.45" fill="#DADADA"/>
<rect x="215.8" y="108.3" width="2.48" height="4.45" fill="#DADADA"/>
<rect x="220.76" y="108.3" width="4.96" height="4.45" fill="#707070"/>
<rect x="228.21" y="108.3" width="2.48" height="4.45" fill="#33AD66"/>
<rect x="238.13" y="108.3" width="2.48" height="4.45" fill="#DADADA"/>
<rect x="245.58" y="108.3" width="4.96" height="4.45" fill="#707070"/>
<rect x="250.54" y="108.3" width="2.48" height="4.45" fill="#33AD66"/>
<rect x="255.5" y="108.3" width="2.48" height="4.45" fill="#DADADA"/>
<rect x="262.95" y="108.3" width="2.48" height="4.45" fill="#DADADA"/>
<rect x="272.87" y="108.3" width="2.48" height="4.45" fill="#33AD66"/>
<rect x="275.36" y="108.3" width="2.48" height="4.45" fill="#707070"/>
<rect x="277.84" y="108.3" width="2.48" height="4.45" fill="#8E8E8E"/>
<path d="M188.5 99.4V112.75M190.98 99.4V112.75M193.46 99.4V112.75M195.94 99.4V112.75M198.43 99.4V112.75M200.91 99.4V112.75M203.39 99.4V112.75M205.87 99.4V112.75M208.35 99.4V112.75M210.83 99.4V112.75M213.32 99.4V112.75M215.8 99.4V112.75M218.28 99.4V112.75M220.76 99.4V112.75M223.24 99.4V112.75M225.72 99.4V112.75M228.21 99.4V112.75M230.69 99.4V112.75M233.17 99.4V112.75M235.65 99.4V112.75M238.13 99.4V112.75M240.61 99.4V112.75M243.09 99.4V112.75M245.58 99.4V112.75M248.06 99.4V112.75M250.54 99.4V112.75M253.02 99.4V112.75M255.5 99.4V112.75M257.98 99.4V112.75M260.47 99.4V112.75M262.95 99.4V112.75M265.43 99.4V112.75M267.91 99.4V112.75M270.39 99.4V112.75M272.87 99.4V112.75M275.36 99.4V112.75M277.84 99.4V112.75M280.32 99.4V112.75M282.8 99.4V112.75M188.5 99.4H282.8M188.5 103.85H282.8M188.5 108.3H282.8M188.5 112.75H282.8" fill="none" stroke="#111" stroke-width="0.52"/>
<rect x="188.5" y="116.25" width="94.3" height="4.75" fill="#fff"/>
<path d="M188.5 116.25V121M190.98 116.25V121M193.46 116.25V121M195.94 116.25V121M198.43 116.25V121M200.91 116.25V121M203.39 116.25V121M205.87 116.25V121M208.35 116.25V121M210.83 116.25V121M213.32 116.25V121M215.8 116.25V121M218.28 116.25V121M220.76 116.25V121M223.24 116.25V121M225.72 116.25V121M228.21 116.25V121M230.69 116.25V121M233.17 116.25V121M235.65 116.25V121M238.13 116.25V121M240.61 116.25V121M243.09 116.25V121M245.58 116.25V121M248.06 116.25V121M250.54 116.25V121M253.02 116.25V121M255.5 116.25V121M257.98 116.25V121M260.47 116.25V121M262.95 116.25V121M265.43 116.25V121M267.91 116.25V121M270.39 116.25V121M272.87 116.25V121M275.36 116.25V121M277.84 116.25V121M280.32 116.25V121M282.8 116.25V121M188.5 116.25H282.8M188.5 121H282.8" fill="none" stroke="#111" stroke-width="0.52"/>
<rect x="188.5" y="124" width="94.3" height="164.5" fill="#fff"/>
<rect x="188.5" y="124" width="7.44" height="4.57" fill="#C43C24"/>
<rect x="188.5" y="128.57" width="2.48" height="4.57" fill="#33AD66"/>
<rect x="195.94" y="128.57" width="24.82" height="4.57" fill="#33AD66"/>
<rect x="190.98" y="133.14" width="2.48" height="4.57" fill="#33AD66"/>
<rect x="195.94" y="133.14" width="2.48" height="4.57" fill="#33AD66"/>
<rect x="200.91" y="133.14" width="2.48" height="4.57" fill="#33AD66"/>
<rect x="220.76" y="133.14" width="2.48" height="4.57" fill="#33AD66"/>
<rect x="195.94" y="137.71" width="4.96" height="4.57" fill="#C43C24"/>
<rect x="223.24" y="137.71" width="7.44" height="4.57" fill="#C43C24"/>
<rect x="188.5" y="142.28" width="2.48" height="4.57" fill="#33AD66"/>
<rect x="198.43" y="142.28" width="2.48" height="4.57" fill="#33AD66"/>
<rect x="203.39" y="142.28" width="7.44" height="4.57" fill="#33AD66"/>
<rect x="220.76" y="142.28" width="2.48" height="4.57" fill="#33AD66"/>
<rect x="230.69" y="142.28" width="7.44" height="4.57" fill="#33AD66"/>
<rect x="203.39" y="146.85" width="2.48" height="4.57" fill="#33AD66"/>
<rect x="220.76" y="146.85" width="7.44" height="4.57" fill="#33AD66"/>
<rect x="230.69" y="146.85" width="2.48" height="4.57" fill="#33AD66"/>
<rect x="238.13" y="146.85" width="2.48" height="4.57" fill="#33AD66"/>
<rect x="188.5" y="151.42" width="2.48" height="4.57" fill="#33AD66"/>
<rect x="193.46" y="151.42" width="2.48" height="4.57" fill="#33AD66"/>
<rect x="208.35" y="151.42" width="7.44" height="4.57" fill="#33AD66"/>
<rect x="240.61" y="151.42" width="9.93" height="4.57" fill="#33AD66"/>
<rect x="250.54" y="155.99" width="2.48" height="4.57" fill="#33AD66"/>
<rect x="255.5" y="155.99" width="2.48" height="4.57" fill="#33AD66"/>
<rect x="198.43" y="160.56" width="2.48" height="4.57" fill="#33AD66"/>
<rect x="205.87" y="160.56" width="2.48" height="4.57" fill="#33AD66"/>
<rect x="213.32" y="160.56" width="2.48" height="4.57" fill="#33AD66"/>
<rect x="223.24" y="160.56" width="2.48" height="4.57" fill="#33AD66"/>
<rect x="240.61" y="160.56" width="2.48" height="4.57" fill="#33AD66"/>
<rect x="223.24" y="165.12" width="2.48" height="4.57" fill="#33AD66"/>
<rect x="230.69" y="165.12" width="2.48" height="4.57" fill="#33AD66"/>
<rect x="253.02" y="165.12" width="4.96" height="4.57" fill="#33AD66"/>
<rect x="205.87" y="169.69" width="2.48" height="4.57" fill="#33AD66"/>
<rect x="210.83" y="169.69" width="2.48" height="4.57" fill="#33AD66"/>
<rect x="243.09" y="169.69" width="4.96" height="4.57" fill="#33AD66"/>
<rect x="240.61" y="174.26" width="2.48" height="4.57" fill="#33AD66"/>
<rect x="257.98" y="174.26" width="2.48" height="4.57" fill="#33AD66"/>
<rect x="260.47" y="178.83" width="2.48" height="4.57" fill="#C43C24"/>
<rect x="205.87" y="183.4" width="2.48" height="4.57" fill="#33AD66"/>
<rect x="215.8" y="183.4" width="2.48" height="4.57" fill="#33AD66"/>
<rect x="220.76" y="183.4" width="2.48" height="4.57" fill="#33AD66"/>
<rect x="262.95" y="183.4" width="4.96" height="4.57" fill="#33AD66"/>
<rect x="213.32" y="187.97" width="2.48" height="4.57" fill="#33AD66"/>
<rect x="240.61" y="187.97" width="2.48" height="4.57" fill="#33AD66"/>
<rect x="253.02" y="192.54" width="2.48" height="4.57" fill="#33AD66"/>
<rect x="218.28" y="197.11" width="4.96" height="4.57" fill="#33AD66"/>
<rect x="220.76" y="201.68" width="2.48" height="4.57" fill="#33AD66"/>
<rect x="267.91" y="201.68" width="2.48" height="4.57" fill="#33AD66"/>
<rect x="190.98" y="206.25" width="2.48" height="4.57" fill="#33AD66"/>
<rect x="218.28" y="206.25" width="4.96" height="4.57" fill="#33AD66"/>
<rect x="260.47" y="206.25" width="2.48" height="4.57" fill="#33AD66"/>
<rect x="270.39" y="206.25" width="2.48" height="4.57" fill="#33AD66"/>
<rect x="188.5" y="210.82" width="2.48" height="4.57" fill="#33AD66"/>
<rect x="193.46" y="210.82" width="2.48" height="4.57" fill="#33AD66"/>
<rect x="198.43" y="210.82" width="9.93" height="4.57" fill="#33AD66"/>
<rect x="210.83" y="210.82" width="2.48" height="4.57" fill="#33AD66"/>
<rect x="218.28" y="210.82" width="2.48" height="4.57" fill="#33AD66"/>
<rect x="230.69" y="210.82" width="2.48" height="4.57" fill="#33AD66"/>
<rect x="250.54" y="210.82" width="2.48" height="4.57" fill="#33AD66"/>
<rect x="205.87" y="215.39" width="4.96" height="4.57" fill="#33AD66"/>
<rect x="213.32" y="215.39" width="2.48" height="4.57" fill="#33AD66"/>
<rect x="250.54" y="215.39" width="2.48" height="4.57" fill="#33AD66"/>
<rect x="272.87" y="215.39" width="2.48" height="4.57" fill="#33AD66"/>
<rect x="200.91" y="219.96" width="4.96" height="4.57" fill="#33AD66"/>
<rect x="245.58" y="219.96" width="2.48" height="4.57" fill="#33AD66"/>
<rect x="205.87" y="229.1" width="2.48" height="4.57" fill="#33AD66"/>
<rect x="253.02" y="229.1" width="2.48" height="4.57" fill="#C43C24"/>
<rect x="260.47" y="229.1" width="2.48" height="4.57" fill="#C43C24"/>
<rect x="270.39" y="229.1" width="2.48" height="4.57" fill="#C43C24"/>
<rect x="233.17" y="238.24" width="2.48" height="4.57" fill="#33AD66"/>
<rect x="188.5" y="242.81" width="7.44" height="4.57" fill="#33AD66"/>
<rect x="208.35" y="242.81" width="2.48" height="4.57" fill="#33AD66"/>
<rect x="223.24" y="242.81" width="2.48" height="4.57" fill="#33AD66"/>
<rect x="228.21" y="242.81" width="2.48" height="4.57" fill="#33AD66"/>
<rect x="190.98" y="247.38" width="2.48" height="4.57" fill="#33AD66"/>
<rect x="218.28" y="247.38" width="7.44" height="4.57" fill="#33AD66"/>
<rect x="210.83" y="251.94" width="2.48" height="4.57" fill="#33AD66"/>
<rect x="255.5" y="251.94" width="2.48" height="4.57" fill="#33AD66"/>
<rect x="228.21" y="256.51" width="2.48" height="4.57" fill="#33AD66"/>
<rect x="257.98" y="256.51" width="4.96" height="4.57" fill="#33AD66"/>
<rect x="260.47" y="265.65" width="2.48" height="4.57" fill="#33AD66"/>
<rect x="267.91" y="265.65" width="2.48" height="4.57" fill="#33AD66"/>
<rect x="250.54" y="270.22" width="2.48" height="4.57" fill="#33AD66"/>
<rect x="220.76" y="274.79" width="2.48" height="4.57" fill="#33AD66"/>
<rect x="190.98" y="279.36" width="4.96" height="4.57" fill="#33AD66"/>
<rect x="200.91" y="283.93" width="2.48" height="4.57" fill="#33AD66"/>
<rect x="205.87" y="283.93" width="2.48" height="4.57" fill="#33AD66"/>
<rect x="225.72" y="283.93" width="2.48" height="4.57" fill="#33AD66"/>
<path d="M188.5 124V288.5M190.98 124V288.5M193.46 124V288.5M195.94 124V288.5M198.43 124V288.5M200.91 124V288.5M203.39 124V288.5M205.87 124V288.5M208.35 124V288.5M210.83 124V288.5M213.32 124V288.5M215.8 124V288.5M218.28 124V288.5M220.76 124V288.5M223.24 124V288.5M225.72 124V288.5M228.21 124V288.5M230.69 124V288.5M233.17 124V288.5M235.65 124V288.5M238.13 124V288.5M240.61 124V288.5M243.09 124V288.5M245.58 124V288.5M248.06 124V288.5M250.54 124V288.5M253.02 124V288.5M255.5 124V288.5M257.98 124V288.5M260.47 124V288.5M262.95 124V288.5M265.43 124V288.5M267.91 124V288.5M270.39 124V288.5M272.87 124V288.5M275.36 124V288.5M277.84 124V288.5M280.32 124V288.5M282.8 124V288.5M188.5 124H282.8M188.5 128.57H282.8M188.5 133.14H282.8M188.5 137.71H282.8M188.5 142.28H282.8M188.5 146.85H282.8M188.5 151.42H282.8M188.5 155.99H282.8M188.5 160.56H282.8M188.5 165.12H282.8M188.5 169.69H282.8M188.5 174.26H282.8M188.5 178.83H282.8M188.5 183.4H282.8M188.5 187.97H282.8M188.5 192.54H282.8M188.5 197.11H282.8M188.5 201.68H282.8M188.5 206.25H282.8M188.5 210.82H282.8M188.5 215.39H282.8M188.5 219.96H282.8M188.5 224.53H282.8M188.5 229.1H282.8M188.5 233.67H282.8M188.5 238.24H282.8M188.5 242.81H282.8M188.5 247.38H282.8M188.5 251.94H282.8M188.5 256.51H282.8M188.5 261.08H282.8M188.5 265.65H282.8M188.5 270.22H282.8M188.5 274.79H282.8M188.5 279.36H282.8M188.5 283.93H282.8M188.5 288.5H282.8" fill="none" stroke="#111" stroke-width="0.52"/>
<text x="5.7" y="78.3" font-size="3.7" fill="#111">Bulky disease of the bone</text>
<text x="5.7" y="83.3" font-size="3.7" fill="#111">Loco. Involvement</text>
<text x="5.7" y="91.3" font-size="3.9" fill="#111" textLength="17.4" lengthAdjust="spacingAndGlyphs" stroke="#111" stroke-width="0.12">COO/IHC</text>
<text x="5.7" y="95.9" font-size="3.9" fill="#111" textLength="29.4" lengthAdjust="spacingAndGlyphs" stroke="#111" stroke-width="0.12">COO/NanoString</text>
<text x="5.7" y="103.4" font-size="3.9" fill="#111" textLength="18.1" lengthAdjust="spacingAndGlyphs" stroke="#111" stroke-width="0.12">FISH <tspan font-style="italic">MYC</tspan></text>
<text x="5.7" y="108.2" font-size="3.9" fill="#111" textLength="20.4" lengthAdjust="spacingAndGlyphs" stroke="#111" stroke-width="0.12">FISH <tspan font-style="italic">BCL2</tspan></text>
<text x="5.7" y="112.4" font-size="3.9" fill="#111" textLength="20.4" lengthAdjust="spacingAndGlyphs" stroke="#111" stroke-width="0.12">FISH <tspan font-style="italic">BCL6</tspan></text>
<text x="5.7" y="120.7" font-size="3.9" fill="#111" textLength="17" lengthAdjust="spacingAndGlyphs">EBER ISH</text>
<text x="5.7" y="127.58" font-size="3.85" fill="#111" font-style="italic" stroke="#111" stroke-width="0.12">B2M</text>
<text x="5.7" y="132.15" font-size="3.85" fill="#111" font-style="italic" stroke="#111" stroke-width="0.12">TNFRSF14</text>
<text x="5.7" y="136.72" font-size="3.85" fill="#111" font-style="italic" stroke="#111" stroke-width="0.12">IRF8</text>
<text x="5.7" y="141.29" font-size="3.85" fill="#111" font-style="italic" stroke="#111" stroke-width="0.12">EZH2</text>
<text x="5.7" y="145.86" font-size="3.85" fill="#111" font-style="italic" stroke="#111" stroke-width="0.12">KMT2D</text>
<text x="5.7" y="150.43" font-size="3.85" fill="#111" font-style="italic" stroke="#111" stroke-width="0.12">SOCS1</text>
<text x="5.7" y="155" font-size="3.85" fill="#111" font-style="italic" stroke="#111" stroke-width="0.12">TP53</text>
<text x="5.7" y="159.57" font-size="3.85" fill="#111" font-style="italic" stroke="#111" stroke-width="0.12">HIST1H1E</text>
<text x="5.7" y="164.14" font-size="3.85" fill="#111" font-style="italic" stroke="#111" stroke-width="0.12">KLHL6</text>
<text x="5.7" y="168.71" font-size="3.85" fill="#111" font-style="italic" stroke="#111" stroke-width="0.12">PIM1</text>
<text x="5.7" y="173.28" font-size="3.85" fill="#111" font-style="italic" stroke="#111" stroke-width="0.12">CARD11</text>
<text x="5.7" y="177.85" font-size="3.85" fill="#111" font-style="italic" stroke="#111" stroke-width="0.12">CD70</text>
<text x="5.7" y="182.42" font-size="3.85" fill="#111" font-style="italic" stroke="#111" stroke-width="0.12">CD79B</text>
<text x="5.7" y="186.99" font-size="3.85" fill="#111" font-style="italic" stroke="#111" stroke-width="0.12">GNA13</text>
<text x="5.7" y="191.56" font-size="3.85" fill="#111" font-style="italic" stroke="#111" stroke-width="0.12">PAX5</text>
<text x="5.7" y="196.13" font-size="3.85" fill="#111" font-style="italic" stroke="#111" stroke-width="0.12">SGK1</text>
<text x="5.7" y="200.7" font-size="3.85" fill="#111" font-style="italic" stroke="#111" stroke-width="0.12">TNFAIP3</text>
<text x="5.7" y="205.27" font-size="3.85" fill="#111" font-style="italic" stroke="#111" stroke-width="0.12">BCL6</text>
<text x="5.7" y="209.83" font-size="3.85" fill="#111" font-style="italic" stroke="#111" stroke-width="0.12">BTG1</text>
<text x="5.7" y="214.4" font-size="3.85" fill="#111" font-style="italic" stroke="#111" stroke-width="0.12">CREBBP</text>
<text x="5.7" y="218.97" font-size="3.85" fill="#111" font-style="italic" stroke="#111" stroke-width="0.12">EBF1</text>
<text x="5.7" y="223.54" font-size="3.85" fill="#111" font-style="italic" stroke="#111" stroke-width="0.12">MEF2B</text>
<text x="5.7" y="228.11" font-size="3.85" fill="#111" font-style="italic" stroke="#111" stroke-width="0.12">PTEN</text>
<text x="5.7" y="232.68" font-size="3.85" fill="#111" font-style="italic" stroke="#111" stroke-width="0.12">MYD88</text>
<text x="5.7" y="237.25" font-size="3.85" fill="#111" font-style="italic" stroke="#111" stroke-width="0.12">TMEM30A</text>
<text x="5.7" y="241.82" font-size="3.85" fill="#111" font-style="italic" stroke="#111" stroke-width="0.12">ATM</text>
<text x="5.7" y="246.39" font-size="3.85" fill="#111" font-style="italic" stroke="#111" stroke-width="0.12">BCL2</text>
<text x="5.7" y="250.96" font-size="3.85" fill="#111" font-style="italic" stroke="#111" stroke-width="0.12">BCL7A</text>
<text x="5.7" y="255.53" font-size="3.85" fill="#111" font-style="italic" stroke="#111" stroke-width="0.12">BTG2</text>
<text x="5.7" y="260.1" font-size="3.85" fill="#111" font-style="italic" stroke="#111" stroke-width="0.12">EP300</text>
<text x="5.7" y="264.67" font-size="3.85" fill="#111" font-style="italic" stroke="#111" stroke-width="0.12">MTOR</text>
<text x="5.7" y="269.24" font-size="3.85" fill="#111" font-style="italic" stroke="#111" stroke-width="0.12">MYC</text>
<text x="5.7" y="273.81" font-size="3.85" fill="#111" font-style="italic" stroke="#111" stroke-width="0.12">PRDM1</text>
<text x="5.7" y="278.38" font-size="3.85" fill="#111" font-style="italic" stroke="#111" stroke-width="0.12">STAT3</text>
<text x="5.7" y="282.95" font-size="3.85" fill="#111" font-style="italic" stroke="#111" stroke-width="0.12">TBL1XR1</text>
<text x="5.7" y="287.52" font-size="3.85" fill="#111" font-style="italic" stroke="#111" stroke-width="0.12">ZFAT</text>
<text x="136" y="123.2" font-size="2.75" fill="#111" stroke="#111" stroke-width="0.1">PB</text>
<text x="136.3" y="127.23" font-size="2.75" fill="#111" stroke="#111" stroke-width="0.1">32%</text>
<text x="136.3" y="131.8" font-size="2.75" fill="#111" stroke="#111" stroke-width="0.1">32%</text>
<text x="136.3" y="136.37" font-size="2.75" fill="#111" stroke="#111" stroke-width="0.1">29%</text>
<text x="136.3" y="140.94" font-size="2.75" fill="#111" stroke="#111" stroke-width="0.1">26%</text>
<text x="136.3" y="145.51" font-size="2.75" fill="#111" stroke="#111" stroke-width="0.1">18%</text>
<text x="136.3" y="150.08" font-size="2.75" fill="#111" stroke="#111" stroke-width="0.1">18%</text>
<text x="136.3" y="154.65" font-size="2.75" fill="#111" stroke="#111" stroke-width="0.1">18%</text>
<text x="136.3" y="159.22" font-size="2.75" fill="#111" stroke="#111" stroke-width="0.1">15%</text>
<text x="136.3" y="163.79" font-size="2.75" fill="#111" stroke="#111" stroke-width="0.1">15%</text>
<text x="136.3" y="168.36" font-size="2.75" fill="#111" stroke="#111" stroke-width="0.1">15%</text>
<text x="136.3" y="172.93" font-size="2.75" fill="#111" stroke="#111" stroke-width="0.1">12%</text>
<text x="136.3" y="177.5" font-size="2.75" fill="#111" stroke="#111" stroke-width="0.1">12%</text>
<text x="136.3" y="182.07" font-size="2.75" fill="#111" stroke="#111" stroke-width="0.1">12%</text>
<text x="136.3" y="186.64" font-size="2.75" fill="#111" stroke="#111" stroke-width="0.1">15%</text>
<text x="136.3" y="191.21" font-size="2.75" fill="#111" stroke="#111" stroke-width="0.1">12%</text>
<text x="136.3" y="195.78" font-size="2.75" fill="#111" stroke="#111" stroke-width="0.1">12%</text>
<text x="136.3" y="200.35" font-size="2.75" fill="#111" stroke="#111" stroke-width="0.1">12%</text>
<text x="136.3" y="204.92" font-size="2.75" fill="#111" stroke="#111" stroke-width="0.1">9%</text>
<text x="136.3" y="209.48" font-size="2.75" fill="#111" stroke="#111" stroke-width="0.1">9%</text>
<text x="136.3" y="214.05" font-size="2.75" fill="#111" stroke="#111" stroke-width="0.1">9%</text>
<text x="136.3" y="218.62" font-size="2.75" fill="#111" stroke="#111" stroke-width="0.1">9%</text>
<text x="136.3" y="223.19" font-size="2.75" fill="#111" stroke="#111" stroke-width="0.1">9%</text>
<text x="136.3" y="227.76" font-size="2.75" fill="#111" stroke="#111" stroke-width="0.1">9%</text>
<text x="136.3" y="232.33" font-size="2.75" fill="#111" stroke="#111" stroke-width="0.1">6%</text>
<text x="136.3" y="236.9" font-size="2.75" fill="#111" stroke="#111" stroke-width="0.1">6%</text>
<text x="136.3" y="241.47" font-size="2.75" fill="#111" stroke="#111" stroke-width="0.1">3%</text>
<text x="136.3" y="246.04" font-size="2.75" fill="#111" stroke="#111" stroke-width="0.1">3%</text>
<text x="136.3" y="250.61" font-size="2.75" fill="#111" stroke="#111" stroke-width="0.1">3%</text>
<text x="136.3" y="255.18" font-size="2.75" fill="#111" stroke="#111" stroke-width="0.1">3%</text>
<text x="136.3" y="259.75" font-size="2.75" fill="#111" stroke="#111" stroke-width="0.1">3%</text>
<text x="136.3" y="264.32" font-size="2.75" fill="#111" stroke="#111" stroke-width="0.1">3%</text>
<text x="136.3" y="268.89" font-size="2.75" fill="#111" stroke="#111" stroke-width="0.1">3%</text>
<text x="136.3" y="273.46" font-size="2.75" fill="#111" stroke="#111" stroke-width="0.1">3%</text>
<text x="136.3" y="278.03" font-size="2.75" fill="#111" stroke="#111" stroke-width="0.1">3%</text>
<text x="136.3" y="282.6" font-size="2.75" fill="#111" stroke="#111" stroke-width="0.1">3%</text>
<text x="136.3" y="287.17" font-size="2.75" fill="#111" stroke="#111" stroke-width="0.1">3%</text>
<text x="176.4" y="123.2" font-size="2.75" fill="#111" stroke="#111" stroke-width="0.1">Poly.</text>
<text x="176.7" y="127.23" font-size="2.75" fill="#111" stroke="#111" stroke-width="0.1">9%</text>
<text x="176.7" y="131.8" font-size="2.75" fill="#111" stroke="#111" stroke-width="0.1">27%</text>
<text x="176.7" y="136.37" font-size="2.75" fill="#111" stroke="#111" stroke-width="0.1">0%</text>
<text x="176.7" y="140.94" font-size="2.75" fill="#111" stroke="#111" stroke-width="0.1">0%</text>
<text x="176.7" y="145.51" font-size="2.75" fill="#111" stroke="#111" stroke-width="0.1">45%</text>
<text x="176.7" y="150.08" font-size="2.75" fill="#111" stroke="#111" stroke-width="0.1">9%</text>
<text x="176.7" y="154.65" font-size="2.75" fill="#111" stroke="#111" stroke-width="0.1">9%</text>
<text x="176.7" y="159.22" font-size="2.75" fill="#111" stroke="#111" stroke-width="0.1">0%</text>
<text x="176.7" y="163.79" font-size="2.75" fill="#111" stroke="#111" stroke-width="0.1">9%</text>
<text x="176.7" y="168.36" font-size="2.75" fill="#111" stroke="#111" stroke-width="0.1">9%</text>
<text x="176.7" y="172.93" font-size="2.75" fill="#111" stroke="#111" stroke-width="0.1">36%</text>
<text x="176.7" y="177.5" font-size="2.75" fill="#111" stroke="#111" stroke-width="0.1">0%</text>
<text x="176.7" y="182.07" font-size="2.75" fill="#111" stroke="#111" stroke-width="0.1">18%</text>
<text x="176.7" y="186.64" font-size="2.75" fill="#111" stroke="#111" stroke-width="0.1">18%</text>
<text x="176.7" y="191.21" font-size="2.75" fill="#111" stroke="#111" stroke-width="0.1">9%</text>
<text x="176.7" y="195.78" font-size="2.75" fill="#111" stroke="#111" stroke-width="0.1">18%</text>
<text x="176.7" y="200.35" font-size="2.75" fill="#111" stroke="#111" stroke-width="0.1">9%</text>
<text x="176.7" y="204.92" font-size="2.75" fill="#111" stroke="#111" stroke-width="0.1">18%</text>
<text x="176.7" y="209.48" font-size="2.75" fill="#111" stroke="#111" stroke-width="0.1">0%</text>
<text x="176.7" y="214.05" font-size="2.75" fill="#111" stroke="#111" stroke-width="0.1">27%</text>
<text x="176.7" y="218.62" font-size="2.75" fill="#111" stroke="#111" stroke-width="0.1">0%</text>
<text x="176.7" y="223.19" font-size="2.75" fill="#111" stroke="#111" stroke-width="0.1">0%</text>
<text x="176.7" y="227.76" font-size="2.75" fill="#111" stroke="#111" stroke-width="0.1">0%</text>
<text x="176.7" y="232.33" font-size="2.75" fill="#111" stroke="#111" stroke-width="0.1">27%</text>
<text x="176.7" y="236.9" font-size="2.75" fill="#111" stroke="#111" stroke-width="0.1">9%</text>
<text x="176.7" y="241.47" font-size="2.75" fill="#111" stroke="#111" stroke-width="0.1">0%</text>
<text x="176.7" y="246.04" font-size="2.75" fill="#111" stroke="#111" stroke-width="0.1">9%</text>
<text x="176.7" y="250.61" font-size="2.75" fill="#111" stroke="#111" stroke-width="0.1">0%</text>
<text x="176.7" y="255.18" font-size="2.75" fill="#111" stroke="#111" stroke-width="0.1">0%</text>
<text x="176.7" y="259.75" font-size="2.75" fill="#111" stroke="#111" stroke-width="0.1">0%</text>
<text x="176.7" y="264.32" font-size="2.75" fill="#111" stroke="#111" stroke-width="0.1">18%</text>
<text x="176.7" y="268.89" font-size="2.75" fill="#111" stroke="#111" stroke-width="0.1">0%</text>
<text x="176.7" y="273.46" font-size="2.75" fill="#111" stroke="#111" stroke-width="0.1">0%</text>
<text x="176.7" y="278.03" font-size="2.75" fill="#111" stroke="#111" stroke-width="0.1">0%</text>
<text x="176.7" y="282.6" font-size="2.75" fill="#111" stroke="#111" stroke-width="0.1">9%</text>
<text x="176.7" y="287.17" font-size="2.75" fill="#111" stroke="#111" stroke-width="0.1">18%</text>
<text x="283.6" y="123.2" font-size="2.75" fill="#111" stroke="#111" stroke-width="0.1">Diss.</text>
<text x="283.9" y="127.23" font-size="2.75" fill="#111" stroke="#111" stroke-width="0.1">8%</text>
<text x="283.9" y="131.8" font-size="2.75" fill="#111" stroke="#111" stroke-width="0.1">29%</text>
<text x="283.9" y="136.37" font-size="2.75" fill="#111" stroke="#111" stroke-width="0.1">11%</text>
<text x="283.9" y="140.94" font-size="2.75" fill="#111" stroke="#111" stroke-width="0.1">13%</text>
<text x="283.9" y="145.51" font-size="2.75" fill="#111" stroke="#111" stroke-width="0.1">24%</text>
<text x="283.9" y="150.08" font-size="2.75" fill="#111" stroke="#111" stroke-width="0.1">16%</text>
<text x="283.9" y="154.65" font-size="2.75" fill="#111" stroke="#111" stroke-width="0.1">24%</text>
<text x="283.9" y="159.22" font-size="2.75" fill="#111" stroke="#111" stroke-width="0.1">5%</text>
<text x="283.9" y="163.79" font-size="2.75" fill="#111" stroke="#111" stroke-width="0.1">13%</text>
<text x="283.9" y="168.36" font-size="2.75" fill="#111" stroke="#111" stroke-width="0.1">11%</text>
<text x="283.9" y="172.93" font-size="2.75" fill="#111" stroke="#111" stroke-width="0.1">11%</text>
<text x="283.9" y="177.5" font-size="2.75" fill="#111" stroke="#111" stroke-width="0.1">5%</text>
<text x="283.9" y="182.07" font-size="2.75" fill="#111" stroke="#111" stroke-width="0.1">3%</text>
<text x="283.9" y="186.64" font-size="2.75" fill="#111" stroke="#111" stroke-width="0.1">13%</text>
<text x="283.9" y="191.21" font-size="2.75" fill="#111" stroke="#111" stroke-width="0.1">5%</text>
<text x="283.9" y="195.78" font-size="2.75" fill="#111" stroke="#111" stroke-width="0.1">3%</text>
<text x="283.9" y="200.35" font-size="2.75" fill="#111" stroke="#111" stroke-width="0.1">5%</text>
<text x="283.9" y="204.92" font-size="2.75" fill="#111" stroke="#111" stroke-width="0.1">5%</text>
<text x="283.9" y="209.48" font-size="2.75" fill="#111" stroke="#111" stroke-width="0.1">13%</text>
<text x="283.9" y="214.05" font-size="2.75" fill="#111" stroke="#111" stroke-width="0.1">26%</text>
<text x="283.9" y="218.62" font-size="2.75" fill="#111" stroke="#111" stroke-width="0.1">13%</text>
<text x="283.9" y="223.19" font-size="2.75" fill="#111" stroke="#111" stroke-width="0.1">8%</text>
<text x="283.9" y="227.76" font-size="2.75" fill="#111" stroke="#111" stroke-width="0.1">0%</text>
<text x="283.9" y="232.33" font-size="2.75" fill="#111" stroke="#111" stroke-width="0.1">11%</text>
<text x="283.9" y="236.9" font-size="2.75" fill="#111" stroke="#111" stroke-width="0.1">0%</text>
<text x="283.9" y="241.47" font-size="2.75" fill="#111" stroke="#111" stroke-width="0.1">3%</text>
<text x="283.9" y="246.04" font-size="2.75" fill="#111" stroke="#111" stroke-width="0.1">16%</text>
<text x="283.9" y="250.61" font-size="2.75" fill="#111" stroke="#111" stroke-width="0.1">11%</text>
<text x="283.9" y="255.18" font-size="2.75" fill="#111" stroke="#111" stroke-width="0.1">5%</text>
<text x="283.9" y="259.75" font-size="2.75" fill="#111" stroke="#111" stroke-width="0.1">8%</text>
<text x="283.9" y="264.32" font-size="2.75" fill="#111" stroke="#111" stroke-width="0.1">0%</text>
<text x="283.9" y="268.89" font-size="2.75" fill="#111" stroke="#111" stroke-width="0.1">5%</text>
<text x="283.9" y="273.46" font-size="2.75" fill="#111" stroke="#111" stroke-width="0.1">3%</text>
<text x="283.9" y="278.03" font-size="2.75" fill="#111" stroke="#111" stroke-width="0.1">3%</text>
<text x="283.9" y="282.6" font-size="2.75" fill="#111" stroke="#111" stroke-width="0.1">5%</text>
<text x="283.9" y="287.17" font-size="2.75" fill="#111" stroke="#111" stroke-width="0.1">8%</text>
<rect x="291.3" y="72" width="1.9" height="4.6" fill="#46207A" stroke="#000" stroke-width="0.6"/>
<text x="294.9" y="75.6" font-size="3.75" fill="#111" stroke="#111" stroke-width="0.1">&gt;7 cm</text>
<rect x="328" y="72" width="1.9" height="4.6" fill="#fff" stroke="#000" stroke-width="0.6"/>
<text x="331.9" y="75.6" font-size="3.75" fill="#111" stroke="#111" stroke-width="0.1">&lt;7cm</text>
<rect x="291.3" y="76.6" width="1.9" height="4.8" fill="#7C7C7C" stroke="#000" stroke-width="0.6"/>
<text x="294.9" y="80.3" font-size="3.75" fill="#111" stroke="#111" stroke-width="0.1">With loc. involv.</text>
<rect x="328" y="76.6" width="1.9" height="4.8" fill="#152F86" stroke="#000" stroke-width="0.6"/>
<text x="331.9" y="80.3" font-size="3.75" fill="#111" stroke="#111" stroke-width="0.1">Without locoregional involvement</text>
<rect x="291.3" y="86.8" width="1.9" height="4.7" fill="#D26A1A" stroke="#000" stroke-width="0.6"/>
<text x="294.9" y="90.45" font-size="3.75" fill="#111" stroke="#111" stroke-width="0.1">GCB</text>
<rect x="328" y="86.8" width="1.9" height="4.7" fill="#95481A" stroke="#000" stroke-width="0.6"/>
<text x="331.9" y="90.45" font-size="3.75" fill="#111" stroke="#111" stroke-width="0.1">Intermediate/Unclassifiable</text>
<rect x="291.3" y="91.5" width="1.9" height="4.9" fill="#1C7DB8" stroke="#000" stroke-width="0.6"/>
<text x="294.9" y="95.25" font-size="3.75" fill="#111" stroke="#111" stroke-width="0.1">ABC</text>
<rect x="328" y="91.5" width="1.9" height="4.9" fill="#7C7C7C" stroke="#000" stroke-width="0.6"/>
<text x="331.9" y="95.25" font-size="3.75" fill="#111" stroke="#111" stroke-width="0.1">Unknown</text>
<rect x="291.3" y="99.9" width="1.9" height="4.9" fill="#2B8F55" stroke="#000" stroke-width="0.6"/>
<text x="294.9" y="103.65" font-size="3.75" fill="#111" stroke="#111" stroke-width="0.1">Positive</text>
<rect x="328" y="99.9" width="1.9" height="4.9" fill="#3A3A3A" stroke="#000" stroke-width="0.6"/>
<text x="331.9" y="103.65" font-size="3.75" fill="#111" stroke="#111" stroke-width="0.1">Failed</text>
<rect x="291.3" y="104.8" width="1.9" height="4.5" fill="#fff" stroke="#000" stroke-width="0.6"/>
<text x="294.9" y="108.35" font-size="3.75" fill="#111" stroke="#111" stroke-width="0.1">Negative</text>
<rect x="291.3" y="109.3" width="1.9" height="4.3" fill="#7C7C7C" stroke="#000" stroke-width="0.6"/>
<text x="294.9" y="112.75" font-size="3.75" fill="#111" stroke="#111" stroke-width="0.1">Unknown</text>
<rect x="291.3" y="125.4" width="1.9" height="4.6" fill="#e8e8e8" stroke="#000" stroke-width="0.6"/>
<text x="294.9" y="129" font-size="3.75" fill="#111" stroke="#111" stroke-width="0.1">Wildtype</text>
<rect x="291.3" y="130" width="1.9" height="4.6" fill="#2B8F55" stroke="#000" stroke-width="0.6"/>
<text x="294.9" y="133.6" font-size="3.75" fill="#111" stroke="#111" stroke-width="0.1">Mutated</text>
<rect x="291.3" y="134.6" width="1.9" height="4.6" fill="#A3301D" stroke="#000" stroke-width="0.6"/>
<text x="294.9" y="138.2" font-size="3.75" fill="#111" stroke="#111" stroke-width="0.1">Hotspot mutation</text>
<text transform="translate(52.89 297.5) rotate(-90)" font-size="1.75" font-weight="bold" fill="#000">N5</text>
<text transform="translate(55.38 297.5) rotate(-90)" font-size="1.75" font-weight="bold" fill="#000">P3</text>
<text transform="translate(57.86 297.5) rotate(-90)" font-size="1.75" font-weight="bold" fill="#000">B</text>
<text transform="translate(60.35 297.5) rotate(-90)" font-size="1.75" font-weight="bold" fill="#000">D3</text>
<text transform="translate(62.83 297.5) rotate(-90)" font-size="1.75" font-weight="bold" fill="#000">E88</text>
<text transform="translate(65.31 297.5) rotate(-90)" font-size="1.75" font-weight="bold" fill="#000">N</text>
<text transform="translate(67.8 297.5) rotate(-90)" font-size="1.75" font-weight="bold" fill="#000">M2</text>
<text transform="translate(70.28 297.5) rotate(-90)" font-size="1.75" font-weight="bold" fill="#000">N</text>
<text transform="translate(72.77 297.5) rotate(-90)" font-size="1.75" font-weight="bold" fill="#000">B65</text>
<text transform="translate(75.25 297.5) rotate(-90)" font-size="1.75" font-weight="bold" fill="#000">P6</text>
<text transform="translate(77.74 297.5) rotate(-90)" font-size="1.75" font-weight="bold" fill="#000">N20</text>
<text transform="translate(80.22 297.5) rotate(-90)" font-size="1.75" font-weight="bold" fill="#000">B</text>
<text transform="translate(82.7 297.5) rotate(-90)" font-size="1.75" font-weight="bold" fill="#000">B</text>
<text transform="translate(85.19 297.5) rotate(-90)" font-size="1.75" font-weight="bold" fill="#000">M28</text>
<text transform="translate(87.67 297.5) rotate(-90)" font-size="1.75" font-weight="bold" fill="#000">M54</text>
<text transform="translate(90.16 297.5) rotate(-90)" font-size="1.75" font-weight="bold" fill="#000">E</text>
<text transform="translate(105.3 297.5) rotate(-90)" font-size="1.75" font-weight="bold" fill="#000">P</text>
<text transform="translate(107.8 297.5) rotate(-90)" font-size="1.75" font-weight="bold" fill="#000">E</text>
<text transform="translate(110.3 297.5) rotate(-90)" font-size="1.75" font-weight="bold" fill="#000">B3</text>
<text transform="translate(112.8 297.5) rotate(-90)" font-size="1.75" font-weight="bold" fill="#000">D</text>
<text transform="translate(115.3 297.5) rotate(-90)" font-size="1.75" font-weight="bold" fill="#000">E4</text>
<text transform="translate(117.8 297.5) rotate(-90)" font-size="1.75" font-weight="bold" fill="#000">D7</text>
<text transform="translate(120.3 297.5) rotate(-90)" font-size="1.75" font-weight="bold" fill="#000">B1</text>
<text transform="translate(122.8 297.5) rotate(-90)" font-size="1.75" font-weight="bold" fill="#000">N9</text>
<text transform="translate(125.3 297.5) rotate(-90)" font-size="1.75" font-weight="bold" fill="#000">E2</text>
<text transform="translate(127.8 297.5) rotate(-90)" font-size="1.75" font-weight="bold" fill="#000">E</text>
<text transform="translate(130.3 297.5) rotate(-90)" font-size="1.75" font-weight="bold" fill="#000">N</text>
<text transform="translate(132.8 297.5) rotate(-90)" font-size="1.75" font-weight="bold" fill="#000">B</text>
<text transform="translate(135.3 297.5) rotate(-90)" font-size="1.75" font-weight="bold" fill="#000">N</text>
<text transform="translate(137.8 297.5) rotate(-90)" font-size="1.75" font-weight="bold" fill="#000">E</text>
<text transform="translate(140.3 297.5) rotate(-90)" font-size="1.75" font-weight="bold" fill="#000">M7</text>
<text transform="translate(142.8 297.5) rotate(-90)" font-size="1.75" font-weight="bold" fill="#000">P81</text>
<text transform="translate(145.3 297.5) rotate(-90)" font-size="1.75" font-weight="bold" fill="#000">B</text>
<text transform="translate(147.8 297.5) rotate(-90)" font-size="1.75" font-weight="bold" fill="#000">P2</text>
<text transform="translate(150.3 297.5) rotate(-90)" font-size="1.75" font-weight="bold" fill="#000">E13</text>
<text transform="translate(165.39 297.5) rotate(-90)" font-size="1.75" font-weight="bold" fill="#000">N</text>
<text transform="translate(167.86 297.5) rotate(-90)" font-size="1.75" font-weight="bold" fill="#000">M4</text>
<text transform="translate(170.33 297.5) rotate(-90)" font-size="1.75" font-weight="bold" fill="#000">E78</text>
<text transform="translate(172.81 297.5) rotate(-90)" font-size="1.75" font-weight="bold" fill="#000">E41</text>
<text transform="translate(175.28 297.5) rotate(-90)" font-size="1.75" font-weight="bold" fill="#000">E3</text>
<text transform="translate(177.75 297.5) rotate(-90)" font-size="1.75" font-weight="bold" fill="#000">B63</text>
<text transform="translate(180.23 297.5) rotate(-90)" font-size="1.75" font-weight="bold" fill="#000">N</text>
<text transform="translate(182.7 297.5) rotate(-90)" font-size="1.75" font-weight="bold" fill="#000">P9</text>
<text transform="translate(185.17 297.5) rotate(-90)" font-size="1.75" font-weight="bold" fill="#000">N1</text>
<text transform="translate(187.65 297.5) rotate(-90)" font-size="1.75" font-weight="bold" fill="#000">M4</text>
<text transform="translate(190.12 297.5) rotate(-90)" font-size="1.75" font-weight="bold" fill="#000">B</text>
<text transform="translate(192.59 297.5) rotate(-90)" font-size="1.75" font-weight="bold" fill="#000">B4</text>
<text transform="translate(195.07 297.5) rotate(-90)" font-size="1.75" font-weight="bold" fill="#000">N</text>
<text transform="translate(197.54 297.5) rotate(-90)" font-size="1.75" font-weight="bold" fill="#000">N</text>
<text transform="translate(200.01 297.5) rotate(-90)" font-size="1.75" font-weight="bold" fill="#000">M</text>
<text transform="translate(202.48 297.5) rotate(-90)" font-size="1.75" font-weight="bold" fill="#000">M</text>
<text transform="translate(204.96 297.5) rotate(-90)" font-size="1.75" font-weight="bold" fill="#000">D6</text>
<text transform="translate(207.43 297.5) rotate(-90)" font-size="1.75" font-weight="bold" fill="#000">D5</text>
<text transform="translate(209.9 297.5) rotate(-90)" font-size="1.75" font-weight="bold" fill="#000">M</text>
<text transform="translate(212.38 297.5) rotate(-90)" font-size="1.75" font-weight="bold" fill="#000">D</text>
<text transform="translate(214.85 297.5) rotate(-90)" font-size="1.75" font-weight="bold" fill="#000">N12</text>
<text transform="translate(217.32 297.5) rotate(-90)" font-size="1.75" font-weight="bold" fill="#000">D7</text>
<text transform="translate(219.8 297.5) rotate(-90)" font-size="1.75" font-weight="bold" fill="#000">E1</text>
<text transform="translate(222.27 297.5) rotate(-90)" font-size="1.75" font-weight="bold" fill="#000">B</text>
<text transform="translate(224.74 297.5) rotate(-90)" font-size="1.75" font-weight="bold" fill="#000">D</text>
<text transform="translate(227.22 297.5) rotate(-90)" font-size="1.75" font-weight="bold" fill="#000">B</text>
<text transform="translate(229.69 297.5) rotate(-90)" font-size="1.75" font-weight="bold" fill="#000">N</text>
<text transform="translate(232.16 297.5) rotate(-90)" font-size="1.75" font-weight="bold" fill="#000">N2</text>
<rect x="51" y="298.1" width="181.75" height="10.8" fill="#3BB44A"/>
<text x="141.6" y="305.4" font-size="5.8" fill="#fff" text-anchor="middle" stroke="#fff" stroke-width="0.12">NO-DLBCL-GCB (n=63)</text>
<rect x="51" y="308.75" width="39.75" height="10.25" fill="#5C2D87"/>
<text x="70.9" y="315.6" font-size="4.6" fill="#fff" text-anchor="middle" stroke="#fff" stroke-width="0.12">Extranodal (n=16)</text>
<rect x="103.4" y="308.75" width="47.5" height="10.25" fill="#F7941D"/>
<text x="125.6" y="315.6" font-size="4.7" fill="#fff" text-anchor="middle" stroke="#fff" stroke-width="0.12">Nodal (n=19)</text>
<rect x="163.5" y="308.75" width="69.25" height="10.25" fill="#0C6B58"/>
<text x="196.7" y="315.6" font-size="4.7" fill="#fff" text-anchor="middle" stroke="#fff" stroke-width="0.12">Mixed (n=28)</text>
<rect x="51" y="322.25" width="39.75" height="4.85" fill="#fff"/>
<rect x="51" y="322.25" width="2.48" height="4.85" fill="#5B2A8C"/>
<rect x="55.97" y="322.25" width="2.48" height="4.85" fill="#5B2A8C"/>
<rect x="60.94" y="322.25" width="2.48" height="4.85" fill="#DADADA"/>
<rect x="65.91" y="322.25" width="4.97" height="4.85" fill="#5B2A8C"/>
<rect x="73.36" y="322.25" width="2.48" height="4.85" fill="#5B2A8C"/>
<rect x="80.81" y="322.25" width="4.97" height="4.85" fill="#DADADA"/>
<path d="M51 322.25V327.1M53.48 322.25V327.1M55.97 322.25V327.1M58.45 322.25V327.1M60.94 322.25V327.1M63.42 322.25V327.1M65.91 322.25V327.1M68.39 322.25V327.1M70.88 322.25V327.1M73.36 322.25V327.1M75.84 322.25V327.1M78.33 322.25V327.1M80.81 322.25V327.1M83.3 322.25V327.1M85.78 322.25V327.1M88.27 322.25V327.1M90.75 322.25V327.1M51 322.25H90.75M51 327.1H90.75" fill="none" stroke="#111" stroke-width="0.52"/>
<rect x="51" y="330" width="39.75" height="9.4" fill="#fff"/>
<rect x="51" y="330" width="39.75" height="4.7" fill="#F58220"/>
<rect x="51" y="334.7" width="7.45" height="4.7" fill="#F58220"/>
<rect x="58.45" y="334.7" width="2.48" height="4.7" fill="#DADADA"/>
<rect x="60.94" y="334.7" width="2.48" height="4.7" fill="#219BDD"/>
<rect x="63.42" y="334.7" width="9.94" height="4.7" fill="#DADADA"/>
<rect x="73.36" y="334.7" width="7.45" height="4.7" fill="#F58220"/>
<rect x="80.81" y="334.7" width="9.94" height="4.7" fill="#DADADA"/>
<path d="M51 330V339.4M53.48 330V339.4M55.97 330V339.4M58.45 330V339.4M60.94 330V339.4M63.42 330V339.4M65.91 330V339.4M68.39 330V339.4M70.88 330V339.4M73.36 330V339.4M75.84 330V339.4M78.33 330V339.4M80.81 330V339.4M83.3 330V339.4M85.78 330V339.4M88.27 330V339.4M90.75 330V339.4M51 330H90.75M51 334.7H90.75M51 339.4H90.75" fill="none" stroke="#111" stroke-width="0.52"/>
<rect x="51" y="342.5" width="39.75" height="14.4" fill="#fff"/>
<rect x="53.48" y="342.5" width="2.48" height="4.8" fill="#33AD66"/>
<rect x="60.94" y="342.5" width="2.48" height="4.8" fill="#DADADA"/>
<rect x="63.42" y="342.5" width="4.97" height="4.8" fill="#33AD66"/>
<rect x="73.36" y="342.5" width="2.48" height="4.8" fill="#33AD66"/>
<rect x="75.84" y="342.5" width="2.48" height="4.8" fill="#DADADA"/>
<rect x="60.94" y="347.3" width="4.97" height="4.8" fill="#DADADA"/>
<rect x="75.84" y="347.3" width="4.97" height="4.8" fill="#DADADA"/>
<rect x="53.48" y="352.1" width="2.48" height="4.8" fill="#33AD66"/>
<rect x="60.94" y="352.1" width="2.48" height="4.8" fill="#DADADA"/>
<rect x="65.91" y="352.1" width="2.48" height="4.8" fill="#33AD66"/>
<rect x="75.84" y="352.1" width="4.97" height="4.8" fill="#DADADA"/>
<path d="M51 342.5V356.9M53.48 342.5V356.9M55.97 342.5V356.9M58.45 342.5V356.9M60.94 342.5V356.9M63.42 342.5V356.9M65.91 342.5V356.9M68.39 342.5V356.9M70.88 342.5V356.9M73.36 342.5V356.9M75.84 342.5V356.9M78.33 342.5V356.9M80.81 342.5V356.9M83.3 342.5V356.9M85.78 342.5V356.9M88.27 342.5V356.9M90.75 342.5V356.9M51 342.5H90.75M51 347.3H90.75M51 352.1H90.75M51 356.9H90.75" fill="none" stroke="#111" stroke-width="0.52"/>
<rect x="51" y="359.75" width="39.75" height="5" fill="#fff"/>
<rect x="58.45" y="359.75" width="2.48" height="5" fill="#DADADA"/>
<rect x="70.88" y="359.75" width="2.48" height="5" fill="#DADADA"/>
<rect x="80.81" y="359.75" width="2.48" height="5" fill="#DADADA"/>
<path d="M51 359.75V364.75M53.48 359.75V364.75M55.97 359.75V364.75M58.45 359.75V364.75M60.94 359.75V364.75M63.42 359.75V364.75M65.91 359.75V364.75M68.39 359.75V364.75M70.88 359.75V364.75M73.36 359.75V364.75M75.84 359.75V364.75M78.33 359.75V364.75M80.81 359.75V364.75M83.3 359.75V364.75M85.78 359.75V364.75M88.27 359.75V364.75M90.75 359.75V364.75M51 359.75H90.75M51 364.75H90.75" fill="none" stroke="#111" stroke-width="0.52"/>
<rect x="51" y="367.1" width="39.75" height="164.8" fill="#fff"/>
<rect x="51" y="367.1" width="2.48" height="4.58" fill="#33AD66"/>
<rect x="53.48" y="371.68" width="2.48" height="4.58" fill="#33AD66"/>
<rect x="55.97" y="376.26" width="2.48" height="4.58" fill="#33AD66"/>
<rect x="55.97" y="380.83" width="2.48" height="4.58" fill="#33AD66"/>
<rect x="53.48" y="385.41" width="2.48" height="4.58" fill="#33AD66"/>
<rect x="58.45" y="385.41" width="9.94" height="4.58" fill="#33AD66"/>
<rect x="68.39" y="389.99" width="2.48" height="4.58" fill="#33AD66"/>
<rect x="68.39" y="394.57" width="2.48" height="4.58" fill="#33AD66"/>
<rect x="60.94" y="399.14" width="2.48" height="4.58" fill="#33AD66"/>
<rect x="70.88" y="399.14" width="2.48" height="4.58" fill="#33AD66"/>
<rect x="73.36" y="403.72" width="4.97" height="4.58" fill="#33AD66"/>
<rect x="51" y="408.3" width="2.48" height="4.58" fill="#33AD66"/>
<rect x="58.45" y="408.3" width="4.97" height="4.58" fill="#33AD66"/>
<rect x="68.39" y="408.3" width="4.97" height="4.58" fill="#33AD66"/>
<rect x="78.33" y="408.3" width="4.97" height="4.58" fill="#33AD66"/>
<rect x="70.88" y="412.88" width="2.48" height="4.58" fill="#33AD66"/>
<rect x="78.33" y="412.88" width="2.48" height="4.58" fill="#33AD66"/>
<rect x="53.48" y="417.46" width="2.48" height="4.58" fill="#33AD66"/>
<rect x="83.3" y="417.46" width="4.97" height="4.58" fill="#33AD66"/>
<rect x="51" y="422.03" width="2.48" height="4.58" fill="#C43C24"/>
<rect x="75.84" y="422.03" width="4.97" height="4.58" fill="#33AD66"/>
<rect x="80.81" y="422.03" width="2.48" height="4.58" fill="#C43C24"/>
<rect x="58.45" y="426.61" width="2.48" height="4.58" fill="#33AD66"/>
<rect x="75.84" y="426.61" width="2.48" height="4.58" fill="#33AD66"/>
<rect x="83.3" y="426.61" width="2.48" height="4.58" fill="#33AD66"/>
<rect x="53.48" y="435.77" width="2.48" height="4.58" fill="#33AD66"/>
<rect x="70.88" y="435.77" width="4.97" height="4.58" fill="#33AD66"/>
<rect x="68.39" y="440.34" width="2.48" height="4.58" fill="#33AD66"/>
<rect x="55.97" y="444.92" width="2.48" height="4.58" fill="#33AD66"/>
<rect x="68.39" y="444.92" width="2.48" height="4.58" fill="#33AD66"/>
<rect x="53.48" y="449.5" width="2.48" height="4.58" fill="#33AD66"/>
<rect x="60.94" y="449.5" width="2.48" height="4.58" fill="#33AD66"/>
<rect x="55.97" y="454.08" width="2.48" height="4.58" fill="#33AD66"/>
<rect x="60.94" y="454.08" width="2.48" height="4.58" fill="#33AD66"/>
<rect x="68.39" y="454.08" width="2.48" height="4.58" fill="#33AD66"/>
<rect x="51" y="463.23" width="2.48" height="4.58" fill="#33AD66"/>
<rect x="63.42" y="463.23" width="2.48" height="4.58" fill="#33AD66"/>
<rect x="70.88" y="467.81" width="2.48" height="4.58" fill="#33AD66"/>
<rect x="83.3" y="467.81" width="2.48" height="4.58" fill="#33AD66"/>
<rect x="58.45" y="472.39" width="4.97" height="4.58" fill="#C43C24"/>
<rect x="70.88" y="472.39" width="2.48" height="4.58" fill="#C43C24"/>
<rect x="75.84" y="472.39" width="2.48" height="4.58" fill="#C43C24"/>
<rect x="80.81" y="472.39" width="2.48" height="4.58" fill="#C43C24"/>
<rect x="85.78" y="472.39" width="2.48" height="4.58" fill="#C43C24"/>
<rect x="88.27" y="472.39" width="2.48" height="4.58" fill="#33AD66"/>
<rect x="78.33" y="476.97" width="4.97" height="4.58" fill="#33AD66"/>
<rect x="88.27" y="476.97" width="2.48" height="4.58" fill="#33AD66"/>
<rect x="53.48" y="481.54" width="2.48" height="4.58" fill="#33AD66"/>
<rect x="65.91" y="481.54" width="2.48" height="4.58" fill="#33AD66"/>
<rect x="63.42" y="490.7" width="2.48" height="4.58" fill="#33AD66"/>
<rect x="53.48" y="495.28" width="2.48" height="4.58" fill="#33AD66"/>
<rect x="83.3" y="495.28" width="2.48" height="4.58" fill="#33AD66"/>
<rect x="75.84" y="499.86" width="2.48" height="4.58" fill="#33AD66"/>
<rect x="53.48" y="504.43" width="2.48" height="4.58" fill="#33AD66"/>
<rect x="65.91" y="504.43" width="2.48" height="4.58" fill="#33AD66"/>
<rect x="63.42" y="509.01" width="2.48" height="4.58" fill="#33AD66"/>
<rect x="73.36" y="509.01" width="2.48" height="4.58" fill="#33AD66"/>
<rect x="78.33" y="513.59" width="4.97" height="4.58" fill="#33AD66"/>
<rect x="60.94" y="522.74" width="2.48" height="4.58" fill="#33AD66"/>
<rect x="85.78" y="522.74" width="2.48" height="4.58" fill="#33AD66"/>
<rect x="65.91" y="527.32" width="2.48" height="4.58" fill="#33AD66"/>
<path d="M51 367.1V531.9M53.48 367.1V531.9M55.97 367.1V531.9M58.45 367.1V531.9M60.94 367.1V531.9M63.42 367.1V531.9M65.91 367.1V531.9M68.39 367.1V531.9M70.88 367.1V531.9M73.36 367.1V531.9M75.84 367.1V531.9M78.33 367.1V531.9M80.81 367.1V531.9M83.3 367.1V531.9M85.78 367.1V531.9M88.27 367.1V531.9M90.75 367.1V531.9M51 367.1H90.75M51 371.68H90.75M51 376.26H90.75M51 380.83H90.75M51 385.41H90.75M51 389.99H90.75M51 394.57H90.75M51 399.14H90.75M51 403.72H90.75M51 408.3H90.75M51 412.88H90.75M51 417.46H90.75M51 422.03H90.75M51 426.61H90.75M51 431.19H90.75M51 435.77H90.75M51 440.34H90.75M51 444.92H90.75M51 449.5H90.75M51 454.08H90.75M51 458.66H90.75M51 463.23H90.75M51 467.81H90.75M51 472.39H90.75M51 476.97H90.75M51 481.54H90.75M51 486.12H90.75M51 490.7H90.75M51 495.28H90.75M51 499.86H90.75M51 504.43H90.75M51 509.01H90.75M51 513.59H90.75M51 518.17H90.75M51 522.74H90.75M51 527.32H90.75M51 531.9H90.75" fill="none" stroke="#111" stroke-width="0.52"/>
<rect x="103.4" y="322.25" width="47.5" height="4.85" fill="#fff"/>
<rect x="103.4" y="322.25" width="2.5" height="4.85" fill="#5B2A8C"/>
<rect x="110.9" y="322.25" width="2.5" height="4.85" fill="#5B2A8C"/>
<rect x="120.9" y="322.25" width="2.5" height="4.85" fill="#5B2A8C"/>
<rect x="130.9" y="322.25" width="2.5" height="4.85" fill="#5B2A8C"/>
<rect x="148.4" y="322.25" width="2.5" height="4.85" fill="#5B2A8C"/>
<path d="M103.4 322.25V327.1M105.9 322.25V327.1M108.4 322.25V327.1M110.9 322.25V327.1M113.4 322.25V327.1M115.9 322.25V327.1M118.4 322.25V327.1M120.9 322.25V327.1M123.4 322.25V327.1M125.9 322.25V327.1M128.4 322.25V327.1M130.9 322.25V327.1M133.4 322.25V327.1M135.9 322.25V327.1M138.4 322.25V327.1M140.9 322.25V327.1M143.4 322.25V327.1M145.9 322.25V327.1M148.4 322.25V327.1M150.9 322.25V327.1M103.4 322.25H150.9M103.4 327.1H150.9" fill="none" stroke="#111" stroke-width="0.52"/>
<rect x="103.4" y="330" width="47.5" height="9.4" fill="#fff"/>
<rect x="103.4" y="330" width="47.5" height="4.7" fill="#F58220"/>
<rect x="103.4" y="334.7" width="7.5" height="4.7" fill="#DADADA"/>
<rect x="110.9" y="334.7" width="2.5" height="4.7" fill="#F58220"/>
<rect x="113.4" y="334.7" width="7.5" height="4.7" fill="#DADADA"/>
<rect x="120.9" y="334.7" width="2.5" height="4.7" fill="#F58220"/>
<rect x="123.4" y="334.7" width="7.5" height="4.7" fill="#DADADA"/>
<rect x="130.9" y="334.7" width="2.5" height="4.7" fill="#F58220"/>
<rect x="133.4" y="334.7" width="17.5" height="4.7" fill="#DADADA"/>
<path d="M103.4 330V339.4M105.9 330V339.4M108.4 330V339.4M110.9 330V339.4M113.4 330V339.4M115.9 330V339.4M118.4 330V339.4M120.9 330V339.4M123.4 330V339.4M125.9 330V339.4M128.4 330V339.4M130.9 330V339.4M133.4 330V339.4M135.9 330V339.4M138.4 330V339.4M140.9 330V339.4M143.4 330V339.4M145.9 330V339.4M148.4 330V339.4M150.9 330V339.4M103.4 330H150.9M103.4 334.7H150.9M103.4 339.4H150.9" fill="none" stroke="#111" stroke-width="0.52"/>
<rect x="103.4" y="342.5" width="47.5" height="14.4" fill="#fff"/>
<rect x="103.4" y="342.5" width="2.5" height="4.8" fill="#33AD66"/>
<rect x="110.9" y="342.5" width="7.5" height="4.8" fill="#33AD66"/>
<rect x="120.9" y="342.5" width="2.5" height="4.8" fill="#33AD66"/>
<rect x="123.4" y="342.5" width="2.5" height="4.8" fill="#DADADA"/>
<rect x="128.4" y="342.5" width="5" height="4.8" fill="#33AD66"/>
<rect x="135.9" y="342.5" width="2.5" height="4.8" fill="#DADADA"/>
<rect x="103.4" y="347.3" width="2.5" height="4.8" fill="#33AD66"/>
<rect x="108.4" y="347.3" width="2.5" height="4.8" fill="#DADADA"/>
<rect x="113.4" y="347.3" width="2.5" height="4.8" fill="#33AD66"/>
<rect x="120.9" y="347.3" width="2.5" height="4.8" fill="#33AD66"/>
<rect x="123.4" y="347.3" width="5" height="4.8" fill="#DADADA"/>
<rect x="130.9" y="347.3" width="2.5" height="4.8" fill="#33AD66"/>
<rect x="135.9" y="347.3" width="5" height="4.8" fill="#DADADA"/>
<rect x="113.4" y="352.1" width="2.5" height="4.8" fill="#33AD66"/>
<rect x="123.4" y="352.1" width="5" height="4.8" fill="#DADADA"/>
<rect x="135.9" y="352.1" width="2.5" height="4.8" fill="#DADADA"/>
<rect x="143.4" y="352.1" width="5" height="4.8" fill="#33AD66"/>
<path d="M103.4 342.5V356.9M105.9 342.5V356.9M108.4 342.5V356.9M110.9 342.5V356.9M113.4 342.5V356.9M115.9 342.5V356.9M118.4 342.5V356.9M120.9 342.5V356.9M123.4 342.5V356.9M125.9 342.5V356.9M128.4 342.5V356.9M130.9 342.5V356.9M133.4 342.5V356.9M135.9 342.5V356.9M138.4 342.5V356.9M140.9 342.5V356.9M143.4 342.5V356.9M145.9 342.5V356.9M148.4 342.5V356.9M150.9 342.5V356.9M103.4 342.5H150.9M103.4 347.3H150.9M103.4 352.1H150.9M103.4 356.9H150.9" fill="none" stroke="#111" stroke-width="0.52"/>
<rect x="103.4" y="359.75" width="47.5" height="5" fill="#fff"/>
<rect x="108.4" y="359.75" width="2.5" height="5" fill="#DADADA"/>
<rect x="125.9" y="359.75" width="2.5" height="5" fill="#DADADA"/>
<rect x="138.4" y="359.75" width="2.5" height="5" fill="#DADADA"/>
<path d="M103.4 359.75V364.75M105.9 359.75V364.75M108.4 359.75V364.75M110.9 359.75V364.75M113.4 359.75V364.75M115.9 359.75V364.75M118.4 359.75V364.75M120.9 359.75V364.75M123.4 359.75V364.75M125.9 359.75V364.75M128.4 359.75V364.75M130.9 359.75V364.75M133.4 359.75V364.75M135.9 359.75V364.75M138.4 359.75V364.75M140.9 359.75V364.75M143.4 359.75V364.75M145.9 359.75V364.75M148.4 359.75V364.75M150.9 359.75V364.75M103.4 359.75H150.9M103.4 364.75H150.9" fill="none" stroke="#111" stroke-width="0.52"/>
<rect x="103.4" y="367.1" width="47.5" height="164.8" fill="#fff"/>
<rect x="103.4" y="367.1" width="7.5" height="4.58" fill="#33AD66"/>
<rect x="103.4" y="371.68" width="2.5" height="4.58" fill="#33AD66"/>
<rect x="110.9" y="371.68" width="5" height="4.58" fill="#33AD66"/>
<rect x="110.9" y="380.83" width="2.5" height="4.58" fill="#C43C24"/>
<rect x="115.9" y="380.83" width="2.5" height="4.58" fill="#C43C24"/>
<rect x="105.9" y="385.41" width="2.5" height="4.58" fill="#33AD66"/>
<rect x="113.4" y="385.41" width="2.5" height="4.58" fill="#33AD66"/>
<rect x="118.4" y="385.41" width="5" height="4.58" fill="#33AD66"/>
<rect x="123.4" y="389.99" width="7.5" height="4.58" fill="#33AD66"/>
<rect x="105.9" y="394.57" width="5" height="4.58" fill="#33AD66"/>
<rect x="118.4" y="394.57" width="2.5" height="4.58" fill="#33AD66"/>
<rect x="123.4" y="394.57" width="2.5" height="4.58" fill="#33AD66"/>
<rect x="130.9" y="394.57" width="5" height="4.58" fill="#33AD66"/>
<rect x="118.4" y="399.14" width="2.5" height="4.58" fill="#33AD66"/>
<rect x="123.4" y="399.14" width="2.5" height="4.58" fill="#33AD66"/>
<rect x="108.4" y="403.72" width="2.5" height="4.58" fill="#33AD66"/>
<rect x="120.9" y="403.72" width="5" height="4.58" fill="#33AD66"/>
<rect x="135.9" y="403.72" width="2.5" height="4.58" fill="#33AD66"/>
<rect x="130.9" y="412.88" width="2.5" height="4.58" fill="#33AD66"/>
<rect x="105.9" y="426.61" width="2.5" height="4.58" fill="#33AD66"/>
<rect x="113.4" y="426.61" width="5" height="4.58" fill="#33AD66"/>
<rect x="130.9" y="426.61" width="2.5" height="4.58" fill="#33AD66"/>
<rect x="138.4" y="426.61" width="2.5" height="4.58" fill="#33AD66"/>
<rect x="125.9" y="431.19" width="2.5" height="4.58" fill="#33AD66"/>
<rect x="118.4" y="435.77" width="2.5" height="4.58" fill="#33AD66"/>
<rect x="123.4" y="435.77" width="7.5" height="4.58" fill="#33AD66"/>
<rect x="113.4" y="440.34" width="2.5" height="4.58" fill="#33AD66"/>
<rect x="125.9" y="440.34" width="2.5" height="4.58" fill="#33AD66"/>
<rect x="128.4" y="444.92" width="2.5" height="4.58" fill="#33AD66"/>
<rect x="140.9" y="444.92" width="2.5" height="4.58" fill="#33AD66"/>
<rect x="115.9" y="449.5" width="2.5" height="4.58" fill="#33AD66"/>
<rect x="105.9" y="454.08" width="2.5" height="4.58" fill="#33AD66"/>
<rect x="110.9" y="454.08" width="2.5" height="4.58" fill="#33AD66"/>
<rect x="105.9" y="458.66" width="2.5" height="4.58" fill="#33AD66"/>
<rect x="125.9" y="458.66" width="5" height="4.58" fill="#33AD66"/>
<rect x="105.9" y="463.23" width="2.5" height="4.58" fill="#33AD66"/>
<rect x="113.4" y="463.23" width="2.5" height="4.58" fill="#33AD66"/>
<rect x="130.9" y="463.23" width="2.5" height="4.58" fill="#33AD66"/>
<rect x="110.9" y="467.81" width="2.5" height="4.58" fill="#33AD66"/>
<rect x="133.4" y="467.81" width="2.5" height="4.58" fill="#33AD66"/>
<rect x="108.4" y="476.97" width="2.5" height="4.58" fill="#33AD66"/>
<rect x="115.9" y="486.12" width="5" height="4.58" fill="#33AD66"/>
<rect x="105.9" y="499.86" width="2.5" height="4.58" fill="#33AD66"/>
<rect x="115.9" y="499.86" width="2.5" height="4.58" fill="#33AD66"/>
<rect x="105.9" y="504.43" width="5" height="4.58" fill="#33AD66"/>
<rect x="125.9" y="504.43" width="2.5" height="4.58" fill="#33AD66"/>
<rect x="128.4" y="509.01" width="2.5" height="4.58" fill="#33AD66"/>
<rect x="105.9" y="518.17" width="2.5" height="4.58" fill="#33AD66"/>
<rect x="110.9" y="518.17" width="2.5" height="4.58" fill="#33AD66"/>
<rect x="108.4" y="522.74" width="2.5" height="4.58" fill="#33AD66"/>
<rect x="118.4" y="522.74" width="2.5" height="4.58" fill="#33AD66"/>
<rect x="105.9" y="527.32" width="2.5" height="4.58" fill="#33AD66"/>
<path d="M103.4 367.1V531.9M105.9 367.1V531.9M108.4 367.1V531.9M110.9 367.1V531.9M113.4 367.1V531.9M115.9 367.1V531.9M118.4 367.1V531.9M120.9 367.1V531.9M123.4 367.1V531.9M125.9 367.1V531.9M128.4 367.1V531.9M130.9 367.1V531.9M133.4 367.1V531.9M135.9 367.1V531.9M138.4 367.1V531.9M140.9 367.1V531.9M143.4 367.1V531.9M145.9 367.1V531.9M148.4 367.1V531.9M150.9 367.1V531.9M103.4 367.1H150.9M103.4 371.68H150.9M103.4 376.26H150.9M103.4 380.83H150.9M103.4 385.41H150.9M103.4 389.99H150.9M103.4 394.57H150.9M103.4 399.14H150.9M103.4 403.72H150.9M103.4 408.3H150.9M103.4 412.88H150.9M103.4 417.46H150.9M103.4 422.03H150.9M103.4 426.61H150.9M103.4 431.19H150.9M103.4 435.77H150.9M103.4 440.34H150.9M103.4 444.92H150.9M103.4 449.5H150.9M103.4 454.08H150.9M103.4 458.66H150.9M103.4 463.23H150.9M103.4 467.81H150.9M103.4 472.39H150.9M103.4 476.97H150.9M103.4 481.54H150.9M103.4 486.12H150.9M103.4 490.7H150.9M103.4 495.28H150.9M103.4 499.86H150.9M103.4 504.43H150.9M103.4 509.01H150.9M103.4 513.59H150.9M103.4 518.17H150.9M103.4 522.74H150.9M103.4 527.32H150.9M103.4 531.9H150.9" fill="none" stroke="#111" stroke-width="0.52"/>
<rect x="163.5" y="322.25" width="69.25" height="4.85" fill="#fff"/>
<rect x="163.5" y="322.25" width="2.47" height="4.85" fill="#5B2A8C"/>
<rect x="178.34" y="322.25" width="12.37" height="4.85" fill="#5B2A8C"/>
<rect x="193.18" y="322.25" width="4.95" height="4.85" fill="#5B2A8C"/>
<rect x="200.6" y="322.25" width="2.47" height="4.85" fill="#5B2A8C"/>
<rect x="205.54" y="322.25" width="2.47" height="4.85" fill="#5B2A8C"/>
<rect x="210.49" y="322.25" width="2.47" height="4.85" fill="#5B2A8C"/>
<rect x="215.44" y="322.25" width="2.47" height="4.85" fill="#5B2A8C"/>
<rect x="220.38" y="322.25" width="2.47" height="4.85" fill="#5B2A8C"/>
<path d="M163.5 322.25V327.1M165.97 322.25V327.1M168.45 322.25V327.1M170.92 322.25V327.1M173.39 322.25V327.1M175.87 322.25V327.1M178.34 322.25V327.1M180.81 322.25V327.1M183.29 322.25V327.1M185.76 322.25V327.1M188.23 322.25V327.1M190.71 322.25V327.1M193.18 322.25V327.1M195.65 322.25V327.1M198.12 322.25V327.1M200.6 322.25V327.1M203.07 322.25V327.1M205.54 322.25V327.1M208.02 322.25V327.1M210.49 322.25V327.1M212.96 322.25V327.1M215.44 322.25V327.1M217.91 322.25V327.1M220.38 322.25V327.1M222.86 322.25V327.1M225.33 322.25V327.1M227.8 322.25V327.1M230.28 322.25V327.1M232.75 322.25V327.1M163.5 322.25H232.75M163.5 327.1H232.75" fill="none" stroke="#111" stroke-width="0.52"/>
<rect x="163.5" y="330" width="69.25" height="9.4" fill="#fff"/>
<rect x="163.5" y="330" width="69.25" height="4.7" fill="#F58220"/>
<rect x="163.5" y="334.7" width="2.47" height="4.7" fill="#DADADA"/>
<rect x="165.97" y="334.7" width="4.95" height="4.7" fill="#F58220"/>
<rect x="170.92" y="334.7" width="7.42" height="4.7" fill="#DADADA"/>
<rect x="178.34" y="334.7" width="2.47" height="4.7" fill="#F58220"/>
<rect x="180.81" y="334.7" width="7.42" height="4.7" fill="#DADADA"/>
<rect x="188.23" y="334.7" width="4.95" height="4.7" fill="#B8591A"/>
<rect x="193.18" y="334.7" width="17.31" height="4.7" fill="#DADADA"/>
<rect x="210.49" y="334.7" width="4.95" height="4.7" fill="#F58220"/>
<rect x="215.44" y="334.7" width="4.95" height="4.7" fill="#DADADA"/>
<rect x="220.38" y="334.7" width="2.47" height="4.7" fill="#F58220"/>
<rect x="222.86" y="334.7" width="2.47" height="4.7" fill="#DADADA"/>
<rect x="225.33" y="334.7" width="2.47" height="4.7" fill="#F58220"/>
<rect x="227.8" y="334.7" width="2.47" height="4.7" fill="#DADADA"/>
<rect x="230.28" y="334.7" width="2.47" height="4.7" fill="#F58220"/>
<path d="M163.5 330V339.4M165.97 330V339.4M168.45 330V339.4M170.92 330V339.4M173.39 330V339.4M175.87 330V339.4M178.34 330V339.4M180.81 330V339.4M183.29 330V339.4M185.76 330V339.4M188.23 330V339.4M190.71 330V339.4M193.18 330V339.4M195.65 330V339.4M198.12 330V339.4M200.6 330V339.4M203.07 330V339.4M205.54 330V339.4M208.02 330V339.4M210.49 330V339.4M212.96 330V339.4M215.44 330V339.4M217.91 330V339.4M220.38 330V339.4M222.86 330V339.4M225.33 330V339.4M227.8 330V339.4M230.28 330V339.4M232.75 330V339.4M163.5 330H232.75M163.5 334.7H232.75M163.5 339.4H232.75" fill="none" stroke="#111" stroke-width="0.52"/>
<rect x="163.5" y="342.5" width="69.25" height="14.4" fill="#fff"/>
<rect x="163.5" y="342.5" width="2.47" height="4.8" fill="#DADADA"/>
<rect x="168.45" y="342.5" width="2.47" height="4.8" fill="#33AD66"/>
<rect x="175.87" y="342.5" width="2.47" height="4.8" fill="#DADADA"/>
<rect x="183.29" y="342.5" width="2.47" height="4.8" fill="#33AD66"/>
<rect x="188.23" y="342.5" width="2.47" height="4.8" fill="#DADADA"/>
<rect x="193.18" y="342.5" width="2.47" height="4.8" fill="#33AD66"/>
<rect x="198.12" y="342.5" width="2.47" height="4.8" fill="#33AD66"/>
<rect x="203.07" y="342.5" width="2.47" height="4.8" fill="#DADADA"/>
<rect x="208.02" y="342.5" width="2.47" height="4.8" fill="#33AD66"/>
<rect x="212.96" y="342.5" width="2.47" height="4.8" fill="#DADADA"/>
<rect x="225.33" y="342.5" width="2.47" height="4.8" fill="#33AD66"/>
<rect x="163.5" y="347.3" width="4.95" height="4.8" fill="#DADADA"/>
<rect x="168.45" y="347.3" width="2.47" height="4.8" fill="#33AD66"/>
<rect x="175.87" y="347.3" width="4.95" height="4.8" fill="#DADADA"/>
<rect x="188.23" y="347.3" width="2.47" height="4.8" fill="#DADADA"/>
<rect x="193.18" y="347.3" width="2.47" height="4.8" fill="#33AD66"/>
<rect x="198.12" y="347.3" width="2.47" height="4.8" fill="#33AD66"/>
<rect x="203.07" y="347.3" width="4.95" height="4.8" fill="#DADADA"/>
<rect x="212.96" y="347.3" width="2.47" height="4.8" fill="#DADADA"/>
<rect x="217.91" y="347.3" width="2.47" height="4.8" fill="#DADADA"/>
<rect x="163.5" y="352.1" width="4.95" height="4.8" fill="#DADADA"/>
<rect x="175.87" y="352.1" width="2.47" height="4.8" fill="#DADADA"/>
<rect x="183.29" y="352.1" width="2.47" height="4.8" fill="#33AD66"/>
<rect x="188.23" y="352.1" width="2.47" height="4.8" fill="#DADADA"/>
<rect x="193.18" y="352.1" width="2.47" height="4.8" fill="#33AD66"/>
<rect x="198.12" y="352.1" width="2.47" height="4.8" fill="#33AD66"/>
<rect x="203.07" y="352.1" width="2.47" height="4.8" fill="#DADADA"/>
<rect x="212.96" y="352.1" width="2.47" height="4.8" fill="#DADADA"/>
<rect x="217.91" y="352.1" width="2.47" height="4.8" fill="#DADADA"/>
<path d="M163.5 342.5V356.9M165.97 342.5V356.9M168.45 342.5V356.9M170.92 342.5V356.9M173.39 342.5V356.9M175.87 342.5V356.9M178.34 342.5V356.9M180.81 342.5V356.9M183.29 342.5V356.9M185.76 342.5V356.9M188.23 342.5V356.9M190.71 342.5V356.9M193.18 342.5V356.9M195.65 342.5V356.9M198.12 342.5V356.9M200.6 342.5V356.9M203.07 342.5V356.9M205.54 342.5V356.9M208.02 342.5V356.9M210.49 342.5V356.9M212.96 342.5V356.9M215.44 342.5V356.9M217.91 342.5V356.9M220.38 342.5V356.9M222.86 342.5V356.9M225.33 342.5V356.9M227.8 342.5V356.9M230.28 342.5V356.9M232.75 342.5V356.9M163.5 342.5H232.75M163.5 347.3H232.75M163.5 352.1H232.75M163.5 356.9H232.75" fill="none" stroke="#111" stroke-width="0.52"/>
<rect x="163.5" y="359.75" width="69.25" height="5" fill="#fff"/>
<rect x="173.39" y="359.75" width="2.47" height="5" fill="#33AD66"/>
<rect x="183.29" y="359.75" width="2.47" height="5" fill="#DADADA"/>
<rect x="198.12" y="359.75" width="2.47" height="5" fill="#33AD66"/>
<rect x="208.02" y="359.75" width="2.47" height="5" fill="#DADADA"/>
<rect x="222.86" y="359.75" width="2.47" height="5" fill="#33AD66"/>
<path d="M163.5 359.75V364.75M165.97 359.75V364.75M168.45 359.75V364.75M170.92 359.75V364.75M173.39 359.75V364.75M175.87 359.75V364.75M178.34 359.75V364.75M180.81 359.75V364.75M183.29 359.75V364.75M185.76 359.75V364.75M188.23 359.75V364.75M190.71 359.75V364.75M193.18 359.75V364.75M195.65 359.75V364.75M198.12 359.75V364.75M200.6 359.75V364.75M203.07 359.75V364.75M205.54 359.75V364.75M208.02 359.75V364.75M210.49 359.75V364.75M212.96 359.75V364.75M215.44 359.75V364.75M217.91 359.75V364.75M220.38 359.75V364.75M222.86 359.75V364.75M225.33 359.75V364.75M227.8 359.75V364.75M230.28 359.75V364.75M232.75 359.75V364.75M163.5 359.75H232.75M163.5 364.75H232.75" fill="none" stroke="#111" stroke-width="0.52"/>
<rect x="163.5" y="367.1" width="69.25" height="164.8" fill="#fff"/>
<rect x="163.5" y="367.1" width="2.47" height="4.58" fill="#33AD66"/>
<rect x="165.97" y="367.1" width="2.47" height="4.58" fill="#C43C24"/>
<rect x="168.45" y="367.1" width="4.95" height="4.58" fill="#33AD66"/>
<rect x="163.5" y="371.68" width="2.47" height="4.58" fill="#33AD66"/>
<rect x="173.39" y="376.26" width="14.84" height="4.58" fill="#33AD66"/>
<rect x="188.23" y="380.83" width="2.47" height="4.58" fill="#C43C24"/>
<rect x="165.97" y="385.41" width="4.95" height="4.58" fill="#33AD66"/>
<rect x="173.39" y="385.41" width="4.95" height="4.58" fill="#33AD66"/>
<rect x="188.23" y="385.41" width="9.89" height="4.58" fill="#33AD66"/>
<rect x="170.92" y="389.99" width="4.95" height="4.58" fill="#33AD66"/>
<rect x="198.12" y="389.99" width="4.95" height="4.58" fill="#33AD66"/>
<rect x="165.97" y="394.57" width="2.47" height="4.58" fill="#33AD66"/>
<rect x="190.71" y="394.57" width="2.47" height="4.58" fill="#33AD66"/>
<rect x="198.12" y="394.57" width="17.31" height="4.58" fill="#33AD66"/>
<rect x="163.5" y="403.72" width="2.47" height="4.58" fill="#33AD66"/>
<rect x="178.34" y="403.72" width="2.47" height="4.58" fill="#33AD66"/>
<rect x="203.07" y="403.72" width="2.47" height="4.58" fill="#33AD66"/>
<rect x="215.44" y="403.72" width="2.47" height="4.58" fill="#33AD66"/>
<rect x="180.81" y="408.3" width="2.47" height="4.58" fill="#33AD66"/>
<rect x="198.12" y="408.3" width="2.47" height="4.58" fill="#33AD66"/>
<rect x="203.07" y="408.3" width="2.47" height="4.58" fill="#33AD66"/>
<rect x="215.44" y="408.3" width="2.47" height="4.58" fill="#33AD66"/>
<rect x="188.23" y="412.88" width="2.47" height="4.58" fill="#33AD66"/>
<rect x="170.92" y="417.46" width="4.95" height="4.58" fill="#33AD66"/>
<rect x="193.18" y="417.46" width="2.47" height="4.58" fill="#33AD66"/>
<rect x="208.02" y="417.46" width="4.95" height="4.58" fill="#33AD66"/>
<rect x="203.07" y="422.03" width="2.47" height="4.58" fill="#C43C24"/>
<rect x="205.54" y="422.03" width="2.47" height="4.58" fill="#33AD66"/>
<rect x="217.91" y="422.03" width="2.47" height="4.58" fill="#C43C24"/>
<rect x="168.45" y="426.61" width="2.47" height="4.58" fill="#33AD66"/>
<rect x="188.23" y="426.61" width="2.47" height="4.58" fill="#33AD66"/>
<rect x="220.38" y="426.61" width="2.47" height="4.58" fill="#33AD66"/>
<rect x="170.92" y="435.77" width="2.47" height="4.58" fill="#33AD66"/>
<rect x="180.81" y="435.77" width="2.47" height="4.58" fill="#33AD66"/>
<rect x="198.12" y="435.77" width="2.47" height="4.58" fill="#33AD66"/>
<rect x="220.38" y="435.77" width="2.47" height="4.58" fill="#33AD66"/>
<rect x="173.39" y="440.34" width="2.47" height="4.58" fill="#33AD66"/>
<rect x="180.81" y="444.92" width="2.47" height="4.58" fill="#33AD66"/>
<rect x="208.02" y="444.92" width="2.47" height="4.58" fill="#33AD66"/>
<rect x="163.5" y="449.5" width="2.47" height="4.58" fill="#33AD66"/>
<rect x="173.39" y="449.5" width="2.47" height="4.58" fill="#33AD66"/>
<rect x="203.07" y="449.5" width="2.47" height="4.58" fill="#33AD66"/>
<rect x="175.87" y="454.08" width="2.47" height="4.58" fill="#33AD66"/>
<rect x="183.29" y="454.08" width="2.47" height="4.58" fill="#33AD66"/>
<rect x="188.23" y="454.08" width="2.47" height="4.58" fill="#33AD66"/>
<rect x="215.44" y="454.08" width="2.47" height="4.58" fill="#33AD66"/>
<rect x="220.38" y="454.08" width="2.47" height="4.58" fill="#33AD66"/>
<rect x="168.45" y="458.66" width="2.47" height="4.58" fill="#33AD66"/>
<rect x="208.02" y="458.66" width="2.47" height="4.58" fill="#33AD66"/>
<rect x="180.81" y="463.23" width="2.47" height="4.58" fill="#33AD66"/>
<rect x="188.23" y="463.23" width="2.47" height="4.58" fill="#33AD66"/>
<rect x="165.97" y="467.81" width="2.47" height="4.58" fill="#33AD66"/>
<rect x="185.76" y="467.81" width="2.47" height="4.58" fill="#33AD66"/>
<rect x="210.49" y="467.81" width="2.47" height="4.58" fill="#33AD66"/>
<rect x="203.07" y="472.39" width="2.47" height="4.58" fill="#C43C24"/>
<rect x="210.49" y="476.97" width="2.47" height="4.58" fill="#33AD66"/>
<rect x="173.39" y="481.54" width="2.47" height="4.58" fill="#33AD66"/>
<rect x="205.54" y="481.54" width="2.47" height="4.58" fill="#33AD66"/>
<rect x="222.86" y="481.54" width="2.47" height="4.58" fill="#33AD66"/>
<rect x="168.45" y="490.7" width="2.47" height="4.58" fill="#33AD66"/>
<rect x="188.23" y="490.7" width="2.47" height="4.58" fill="#33AD66"/>
<rect x="173.39" y="495.28" width="2.47" height="4.58" fill="#33AD66"/>
<rect x="198.12" y="495.28" width="2.47" height="4.58" fill="#33AD66"/>
<rect x="178.34" y="499.86" width="4.95" height="4.58" fill="#33AD66"/>
<rect x="195.65" y="499.86" width="2.47" height="4.58" fill="#33AD66"/>
<rect x="178.34" y="509.01" width="2.47" height="4.58" fill="#33AD66"/>
<rect x="193.18" y="509.01" width="4.95" height="4.58" fill="#33AD66"/>
<rect x="210.49" y="509.01" width="2.47" height="4.58" fill="#33AD66"/>
<rect x="217.91" y="513.59" width="2.47" height="4.58" fill="#33AD66"/>
<rect x="175.87" y="518.17" width="2.47" height="4.58" fill="#33AD66"/>
<rect x="183.29" y="518.17" width="2.47" height="4.58" fill="#33AD66"/>
<rect x="215.44" y="518.17" width="2.47" height="4.58" fill="#33AD66"/>
<rect x="203.07" y="522.74" width="2.47" height="4.58" fill="#33AD66"/>
<rect x="225.33" y="522.74" width="2.47" height="4.58" fill="#33AD66"/>
<path d="M163.5 367.1V531.9M165.97 367.1V531.9M168.45 367.1V531.9M170.92 367.1V531.9M173.39 367.1V531.9M175.87 367.1V531.9M178.34 367.1V531.9M180.81 367.1V531.9M183.29 367.1V531.9M185.76 367.1V531.9M188.23 367.1V531.9M190.71 367.1V531.9M193.18 367.1V531.9M195.65 367.1V531.9M198.12 367.1V531.9M200.6 367.1V531.9M203.07 367.1V531.9M205.54 367.1V531.9M208.02 367.1V531.9M210.49 367.1V531.9M212.96 367.1V531.9M215.44 367.1V531.9M217.91 367.1V531.9M220.38 367.1V531.9M222.86 367.1V531.9M225.33 367.1V531.9M227.8 367.1V531.9M230.28 367.1V531.9M232.75 367.1V531.9M163.5 367.1H232.75M163.5 371.68H232.75M163.5 376.26H232.75M163.5 380.83H232.75M163.5 385.41H232.75M163.5 389.99H232.75M163.5 394.57H232.75M163.5 399.14H232.75M163.5 403.72H232.75M163.5 408.3H232.75M163.5 412.88H232.75M163.5 417.46H232.75M163.5 422.03H232.75M163.5 426.61H232.75M163.5 431.19H232.75M163.5 435.77H232.75M163.5 440.34H232.75M163.5 444.92H232.75M163.5 449.5H232.75M163.5 454.08H232.75M163.5 458.66H232.75M163.5 463.23H232.75M163.5 467.81H232.75M163.5 472.39H232.75M163.5 476.97H232.75M163.5 481.54H232.75M163.5 486.12H232.75M163.5 490.7H232.75M163.5 495.28H232.75M163.5 499.86H232.75M163.5 504.43H232.75M163.5 509.01H232.75M163.5 513.59H232.75M163.5 518.17H232.75M163.5 522.74H232.75M163.5 527.32H232.75M163.5 531.9H232.75" fill="none" stroke="#111" stroke-width="0.52"/>
<text x="5.7" y="326" font-size="3.7" fill="#111">Bulky disease</text>
<text x="5.7" y="333.6" font-size="3.9" fill="#111" textLength="17.4" lengthAdjust="spacingAndGlyphs" stroke="#111" stroke-width="0.12">COO/IHC</text>
<text x="5.7" y="338.3" font-size="3.9" fill="#111" textLength="29.4" lengthAdjust="spacingAndGlyphs" stroke="#111" stroke-width="0.12">COO/NanoString</text>
<text x="5.7" y="346.2" font-size="3.9" fill="#111" textLength="18.1" lengthAdjust="spacingAndGlyphs" stroke="#111" stroke-width="0.12">FISH <tspan font-style="italic">MYC</tspan></text>
<text x="5.7" y="351" font-size="3.9" fill="#111" textLength="20.4" lengthAdjust="spacingAndGlyphs" stroke="#111" stroke-width="0.12">FISH <tspan font-style="italic">BCL2</tspan></text>
<text x="5.7" y="355.8" font-size="3.9" fill="#111" textLength="20.4" lengthAdjust="spacingAndGlyphs" stroke="#111" stroke-width="0.12">FISH <tspan font-style="italic">BCL6</tspan></text>
<text x="5.7" y="363.5" font-size="3.9" fill="#111" textLength="17" lengthAdjust="spacingAndGlyphs">EBER ISH</text>
<text x="5.7" y="370.69" font-size="3.85" fill="#111" font-style="italic" stroke="#111" stroke-width="0.12">B2M</text>
<text x="5.7" y="375.27" font-size="3.85" fill="#111" font-style="italic" stroke="#111" stroke-width="0.12">TNFRSF14</text>
<text x="5.7" y="379.84" font-size="3.85" fill="#111" font-style="italic" stroke="#111" stroke-width="0.12">IRF8</text>
<text x="5.7" y="384.42" font-size="3.85" fill="#111" font-style="italic" stroke="#111" stroke-width="0.12">EZH2</text>
<text x="5.7" y="389" font-size="3.85" fill="#111" font-style="italic" stroke="#111" stroke-width="0.12">KMT2D</text>
<text x="5.7" y="393.58" font-size="3.85" fill="#111" font-style="italic" stroke="#111" stroke-width="0.12">SOCS1</text>
<text x="5.7" y="398.16" font-size="3.85" fill="#111" font-style="italic" stroke="#111" stroke-width="0.12">TP53</text>
<text x="5.7" y="402.73" font-size="3.85" fill="#111" font-style="italic" stroke="#111" stroke-width="0.12">HIST1H1E</text>
<text x="5.7" y="407.31" font-size="3.85" fill="#111" font-style="italic" stroke="#111" stroke-width="0.12">KLHL6</text>
<text x="5.7" y="411.89" font-size="3.85" fill="#111" font-style="italic" stroke="#111" stroke-width="0.12">PIM1</text>
<text x="5.7" y="416.47" font-size="3.85" fill="#111" font-style="italic" stroke="#111" stroke-width="0.12">CARD11</text>
<text x="5.7" y="421.04" font-size="3.85" fill="#111" font-style="italic" stroke="#111" stroke-width="0.12">CD70</text>
<text x="5.7" y="425.62" font-size="3.85" fill="#111" font-style="italic" stroke="#111" stroke-width="0.12">CD79B</text>
<text x="5.7" y="430.2" font-size="3.85" fill="#111" font-style="italic" stroke="#111" stroke-width="0.12">GNA13</text>
<text x="5.7" y="434.78" font-size="3.85" fill="#111" font-style="italic" stroke="#111" stroke-width="0.12">PAX5</text>
<text x="5.7" y="439.36" font-size="3.85" fill="#111" font-style="italic" stroke="#111" stroke-width="0.12">SGK1</text>
<text x="5.7" y="443.93" font-size="3.85" fill="#111" font-style="italic" stroke="#111" stroke-width="0.12">TNFAIP3</text>
<text x="5.7" y="448.51" font-size="3.85" fill="#111" font-style="italic" stroke="#111" stroke-width="0.12">BCL6</text>
<text x="5.7" y="453.09" font-size="3.85" fill="#111" font-style="italic" stroke="#111" stroke-width="0.12">BTG1</text>
<text x="5.7" y="457.67" font-size="3.85" fill="#111" font-style="italic" stroke="#111" stroke-width="0.12">CREBBP</text>
<text x="5.7" y="462.24" font-size="3.85" fill="#111" font-style="italic" stroke="#111" stroke-width="0.12">EBF1</text>
<text x="5.7" y="466.82" font-size="3.85" fill="#111" font-style="italic" stroke="#111" stroke-width="0.12">MEF2B</text>
<text x="5.7" y="471.4" font-size="3.85" fill="#111" font-style="italic" stroke="#111" stroke-width="0.12">PTEN</text>
<text x="5.7" y="475.98" font-size="3.85" fill="#111" font-style="italic" stroke="#111" stroke-width="0.12">MYD88</text>
<text x="5.7" y="480.56" font-size="3.85" fill="#111" font-style="italic" stroke="#111" stroke-width="0.12">TMEM30A</text>
<text x="5.7" y="485.13" font-size="3.85" fill="#111" font-style="italic" stroke="#111" stroke-width="0.12">ATM</text>
<text x="5.7" y="489.71" font-size="3.85" fill="#111" font-style="italic" stroke="#111" stroke-width="0.12">BCL2</text>
<text x="5.7" y="494.29" font-size="3.85" fill="#111" font-style="italic" stroke="#111" stroke-width="0.12">BCL7A</text>
<text x="5.7" y="498.87" font-size="3.85" fill="#111" font-style="italic" stroke="#111" stroke-width="0.12">BTG2</text>
<text x="5.7" y="503.44" font-size="3.85" fill="#111" font-style="italic" stroke="#111" stroke-width="0.12">EP300</text>
<text x="5.7" y="508.02" font-size="3.85" fill="#111" font-style="italic" stroke="#111" stroke-width="0.12">MTOR</text>
<text x="5.7" y="512.6" font-size="3.85" fill="#111" font-style="italic" stroke="#111" stroke-width="0.12">MYC</text>
<text x="5.7" y="517.18" font-size="3.85" fill="#111" font-style="italic" stroke="#111" stroke-width="0.12">PRDM1</text>
<text x="5.7" y="521.76" font-size="3.85" fill="#111" font-style="italic" stroke="#111" stroke-width="0.12">STAT3</text>
<text x="5.7" y="526.33" font-size="3.85" fill="#111" font-style="italic" stroke="#111" stroke-width="0.12">TBL1XR1</text>
<text x="5.7" y="530.91" font-size="3.85" fill="#111" font-style="italic" stroke="#111" stroke-width="0.12">ZFAT</text>
<text x="91.4" y="367" font-size="2.75" fill="#111" stroke="#111" stroke-width="0.1">Extra.</text>
<text x="91.7" y="370.34" font-size="2.75" fill="#111" stroke="#111" stroke-width="0.1">6%</text>
<text x="91.7" y="374.92" font-size="2.75" fill="#111" stroke="#111" stroke-width="0.1">6%</text>
<text x="91.7" y="379.49" font-size="2.75" fill="#111" stroke="#111" stroke-width="0.1">6%</text>
<text x="91.7" y="384.07" font-size="2.75" fill="#111" stroke="#111" stroke-width="0.1">6%</text>
<text x="91.7" y="388.65" font-size="2.75" fill="#111" stroke="#111" stroke-width="0.1">31%</text>
<text x="91.7" y="393.23" font-size="2.75" fill="#111" stroke="#111" stroke-width="0.1">6%</text>
<text x="91.7" y="397.81" font-size="2.75" fill="#111" stroke="#111" stroke-width="0.1">6%</text>
<text x="91.7" y="402.38" font-size="2.75" fill="#111" stroke="#111" stroke-width="0.1">12%</text>
<text x="91.7" y="406.96" font-size="2.75" fill="#111" stroke="#111" stroke-width="0.1">12%</text>
<text x="91.7" y="411.54" font-size="2.75" fill="#111" stroke="#111" stroke-width="0.1">44%</text>
<text x="91.7" y="416.12" font-size="2.75" fill="#111" stroke="#111" stroke-width="0.1">12%</text>
<text x="91.7" y="420.69" font-size="2.75" fill="#111" stroke="#111" stroke-width="0.1">19%</text>
<text x="91.7" y="425.27" font-size="2.75" fill="#111" stroke="#111" stroke-width="0.1">25%</text>
<text x="91.7" y="429.85" font-size="2.75" fill="#111" stroke="#111" stroke-width="0.1">19%</text>
<text x="91.7" y="434.43" font-size="2.75" fill="#111" stroke="#111" stroke-width="0.1">0%</text>
<text x="91.7" y="439.01" font-size="2.75" fill="#111" stroke="#111" stroke-width="0.1">19%</text>
<text x="91.7" y="443.58" font-size="2.75" fill="#111" stroke="#111" stroke-width="0.1">6%</text>
<text x="91.7" y="448.16" font-size="2.75" fill="#111" stroke="#111" stroke-width="0.1">12%</text>
<text x="91.7" y="452.74" font-size="2.75" fill="#111" stroke="#111" stroke-width="0.1">12%</text>
<text x="91.7" y="457.32" font-size="2.75" fill="#111" stroke="#111" stroke-width="0.1">19%</text>
<text x="91.7" y="461.89" font-size="2.75" fill="#111" stroke="#111" stroke-width="0.1">0%</text>
<text x="91.7" y="466.47" font-size="2.75" fill="#111" stroke="#111" stroke-width="0.1">12%</text>
<text x="91.7" y="471.05" font-size="2.75" fill="#111" stroke="#111" stroke-width="0.1">12%</text>
<text x="91.7" y="475.63" font-size="2.75" fill="#111" stroke="#111" stroke-width="0.1">44%</text>
<text x="91.7" y="480.21" font-size="2.75" fill="#111" stroke="#111" stroke-width="0.1">19%</text>
<text x="91.7" y="484.78" font-size="2.75" fill="#111" stroke="#111" stroke-width="0.1">12%</text>
<text x="91.7" y="489.36" font-size="2.75" fill="#111" stroke="#111" stroke-width="0.1">0%</text>
<text x="91.7" y="493.94" font-size="2.75" fill="#111" stroke="#111" stroke-width="0.1">6%</text>
<text x="91.7" y="498.52" font-size="2.75" fill="#111" stroke="#111" stroke-width="0.1">12%</text>
<text x="91.7" y="503.09" font-size="2.75" fill="#111" stroke="#111" stroke-width="0.1">6%</text>
<text x="91.7" y="507.67" font-size="2.75" fill="#111" stroke="#111" stroke-width="0.1">12%</text>
<text x="91.7" y="512.25" font-size="2.75" fill="#111" stroke="#111" stroke-width="0.1">12%</text>
<text x="91.7" y="516.83" font-size="2.75" fill="#111" stroke="#111" stroke-width="0.1">12%</text>
<text x="91.7" y="521.41" font-size="2.75" fill="#111" stroke="#111" stroke-width="0.1">0%</text>
<text x="91.7" y="525.98" font-size="2.75" fill="#111" stroke="#111" stroke-width="0.1">12%</text>
<text x="91.7" y="530.56" font-size="2.75" fill="#111" stroke="#111" stroke-width="0.1">6%</text>
<text x="151.8" y="367" font-size="2.75" fill="#111" stroke="#111" stroke-width="0.1">Nodal</text>
<text x="152.1" y="370.34" font-size="2.75" fill="#111" stroke="#111" stroke-width="0.1">16%</text>
<text x="152.1" y="374.92" font-size="2.75" fill="#111" stroke="#111" stroke-width="0.1">16%</text>
<text x="152.1" y="379.49" font-size="2.75" fill="#111" stroke="#111" stroke-width="0.1">0%</text>
<text x="152.1" y="384.07" font-size="2.75" fill="#111" stroke="#111" stroke-width="0.1">11%</text>
<text x="152.1" y="388.65" font-size="2.75" fill="#111" stroke="#111" stroke-width="0.1">21%</text>
<text x="152.1" y="393.23" font-size="2.75" fill="#111" stroke="#111" stroke-width="0.1">16%</text>
<text x="152.1" y="397.81" font-size="2.75" fill="#111" stroke="#111" stroke-width="0.1">32%</text>
<text x="152.1" y="402.38" font-size="2.75" fill="#111" stroke="#111" stroke-width="0.1">11%</text>
<text x="152.1" y="406.96" font-size="2.75" fill="#111" stroke="#111" stroke-width="0.1">21%</text>
<text x="152.1" y="411.54" font-size="2.75" fill="#111" stroke="#111" stroke-width="0.1">0%</text>
<text x="152.1" y="416.12" font-size="2.75" fill="#111" stroke="#111" stroke-width="0.1">5%</text>
<text x="152.1" y="420.69" font-size="2.75" fill="#111" stroke="#111" stroke-width="0.1">0%</text>
<text x="152.1" y="425.27" font-size="2.75" fill="#111" stroke="#111" stroke-width="0.1">0%</text>
<text x="152.1" y="429.85" font-size="2.75" fill="#111" stroke="#111" stroke-width="0.1">26%</text>
<text x="152.1" y="434.43" font-size="2.75" fill="#111" stroke="#111" stroke-width="0.1">5%</text>
<text x="152.1" y="439.01" font-size="2.75" fill="#111" stroke="#111" stroke-width="0.1">21%</text>
<text x="152.1" y="443.58" font-size="2.75" fill="#111" stroke="#111" stroke-width="0.1">11%</text>
<text x="152.1" y="448.16" font-size="2.75" fill="#111" stroke="#111" stroke-width="0.1">11%</text>
<text x="152.1" y="452.74" font-size="2.75" fill="#111" stroke="#111" stroke-width="0.1">5%</text>
<text x="152.1" y="457.32" font-size="2.75" fill="#111" stroke="#111" stroke-width="0.1">11%</text>
<text x="152.1" y="461.89" font-size="2.75" fill="#111" stroke="#111" stroke-width="0.1">16%</text>
<text x="152.1" y="466.47" font-size="2.75" fill="#111" stroke="#111" stroke-width="0.1">16%</text>
<text x="152.1" y="471.05" font-size="2.75" fill="#111" stroke="#111" stroke-width="0.1">11%</text>
<text x="152.1" y="475.63" font-size="2.75" fill="#111" stroke="#111" stroke-width="0.1">0%</text>
<text x="152.1" y="480.21" font-size="2.75" fill="#111" stroke="#111" stroke-width="0.1">5%</text>
<text x="152.1" y="484.78" font-size="2.75" fill="#111" stroke="#111" stroke-width="0.1">0%</text>
<text x="152.1" y="489.36" font-size="2.75" fill="#111" stroke="#111" stroke-width="0.1">11%</text>
<text x="152.1" y="493.94" font-size="2.75" fill="#111" stroke="#111" stroke-width="0.1">0%</text>
<text x="152.1" y="498.52" font-size="2.75" fill="#111" stroke="#111" stroke-width="0.1">0%</text>
<text x="152.1" y="503.09" font-size="2.75" fill="#111" stroke="#111" stroke-width="0.1">11%</text>
<text x="152.1" y="507.67" font-size="2.75" fill="#111" stroke="#111" stroke-width="0.1">16%</text>
<text x="152.1" y="512.25" font-size="2.75" fill="#111" stroke="#111" stroke-width="0.1">5%</text>
<text x="152.1" y="516.83" font-size="2.75" fill="#111" stroke="#111" stroke-width="0.1">0%</text>
<text x="152.1" y="521.41" font-size="2.75" fill="#111" stroke="#111" stroke-width="0.1">11%</text>
<text x="152.1" y="525.98" font-size="2.75" fill="#111" stroke="#111" stroke-width="0.1">11%</text>
<text x="152.1" y="530.56" font-size="2.75" fill="#111" stroke="#111" stroke-width="0.1">5%</text>
<text x="233.6" y="367" font-size="2.75" fill="#111" stroke="#111" stroke-width="0.1">Mixed</text>
<text x="233.9" y="370.34" font-size="2.75" fill="#111" stroke="#111" stroke-width="0.1">14%</text>
<text x="233.9" y="374.92" font-size="2.75" fill="#111" stroke="#111" stroke-width="0.1">4%</text>
<text x="233.9" y="379.49" font-size="2.75" fill="#111" stroke="#111" stroke-width="0.1">21%</text>
<text x="233.9" y="384.07" font-size="2.75" fill="#111" stroke="#111" stroke-width="0.1">4%</text>
<text x="233.9" y="388.65" font-size="2.75" fill="#111" stroke="#111" stroke-width="0.1">29%</text>
<text x="233.9" y="393.23" font-size="2.75" fill="#111" stroke="#111" stroke-width="0.1">14%</text>
<text x="233.9" y="397.81" font-size="2.75" fill="#111" stroke="#111" stroke-width="0.1">32%</text>
<text x="233.9" y="402.38" font-size="2.75" fill="#111" stroke="#111" stroke-width="0.1">0%</text>
<text x="233.9" y="406.96" font-size="2.75" fill="#111" stroke="#111" stroke-width="0.1">14%</text>
<text x="233.9" y="411.54" font-size="2.75" fill="#111" stroke="#111" stroke-width="0.1">14%</text>
<text x="233.9" y="416.12" font-size="2.75" fill="#111" stroke="#111" stroke-width="0.1">4%</text>
<text x="233.9" y="420.69" font-size="2.75" fill="#111" stroke="#111" stroke-width="0.1">18%</text>
<text x="233.9" y="425.27" font-size="2.75" fill="#111" stroke="#111" stroke-width="0.1">11%</text>
<text x="233.9" y="429.85" font-size="2.75" fill="#111" stroke="#111" stroke-width="0.1">11%</text>
<text x="233.9" y="434.43" font-size="2.75" fill="#111" stroke="#111" stroke-width="0.1">0%</text>
<text x="233.9" y="439.01" font-size="2.75" fill="#111" stroke="#111" stroke-width="0.1">14%</text>
<text x="233.9" y="443.58" font-size="2.75" fill="#111" stroke="#111" stroke-width="0.1">4%</text>
<text x="233.9" y="448.16" font-size="2.75" fill="#111" stroke="#111" stroke-width="0.1">7%</text>
<text x="233.9" y="452.74" font-size="2.75" fill="#111" stroke="#111" stroke-width="0.1">11%</text>
<text x="233.9" y="457.32" font-size="2.75" fill="#111" stroke="#111" stroke-width="0.1">18%</text>
<text x="233.9" y="461.89" font-size="2.75" fill="#111" stroke="#111" stroke-width="0.1">7%</text>
<text x="233.9" y="466.47" font-size="2.75" fill="#111" stroke="#111" stroke-width="0.1">7%</text>
<text x="233.9" y="471.05" font-size="2.75" fill="#111" stroke="#111" stroke-width="0.1">11%</text>
<text x="233.9" y="475.63" font-size="2.75" fill="#111" stroke="#111" stroke-width="0.1">4%</text>
<text x="233.9" y="480.21" font-size="2.75" fill="#111" stroke="#111" stroke-width="0.1">4%</text>
<text x="233.9" y="484.78" font-size="2.75" fill="#111" stroke="#111" stroke-width="0.1">11%</text>
<text x="233.9" y="489.36" font-size="2.75" fill="#111" stroke="#111" stroke-width="0.1">0%</text>
<text x="233.9" y="493.94" font-size="2.75" fill="#111" stroke="#111" stroke-width="0.1">7%</text>
<text x="233.9" y="498.52" font-size="2.75" fill="#111" stroke="#111" stroke-width="0.1">7%</text>
<text x="233.9" y="503.09" font-size="2.75" fill="#111" stroke="#111" stroke-width="0.1">11%</text>
<text x="233.9" y="507.67" font-size="2.75" fill="#111" stroke="#111" stroke-width="0.1">0%</text>
<text x="233.9" y="512.25" font-size="2.75" fill="#111" stroke="#111" stroke-width="0.1">14%</text>
<text x="233.9" y="516.83" font-size="2.75" fill="#111" stroke="#111" stroke-width="0.1">4%</text>
<text x="233.9" y="521.41" font-size="2.75" fill="#111" stroke="#111" stroke-width="0.1">11%</text>
<text x="233.9" y="525.98" font-size="2.75" fill="#111" stroke="#111" stroke-width="0.1">7%</text>
<text x="233.9" y="530.56" font-size="2.75" fill="#111" stroke="#111" stroke-width="0.1">0%</text>
<text x="246.6" y="367" font-size="2.75" fill="#111" stroke="#111" stroke-width="0.1">Total</text>
<rect x="245.6" y="367.59" width="7.8" height="3.6" fill="#D4D4D4"/>
<line x1="245.9" y1="367.59" x2="245.9" y2="371.19" stroke="#222" stroke-width="0.75"/>
<line x1="253.1" y1="367.59" x2="253.1" y2="371.19" stroke="#222" stroke-width="0.75"/>
<text x="249.5" y="370.39" font-size="2.9" fill="#000" text-anchor="middle" font-weight="bold">13%</text>
<rect x="245.6" y="372.17" width="7.8" height="3.6" fill="#D4D4D4"/>
<line x1="245.9" y1="372.17" x2="245.9" y2="375.77" stroke="#222" stroke-width="0.75"/>
<line x1="253.1" y1="372.17" x2="253.1" y2="375.77" stroke="#222" stroke-width="0.75"/>
<text x="249.5" y="374.97" font-size="2.9" fill="#000" text-anchor="middle" font-weight="bold">8%</text>
<rect x="245.6" y="376.74" width="7.8" height="3.6" fill="#D4D4D4"/>
<line x1="245.9" y1="376.74" x2="245.9" y2="380.34" stroke="#222" stroke-width="0.75"/>
<line x1="253.1" y1="376.74" x2="253.1" y2="380.34" stroke="#222" stroke-width="0.75"/>
<text x="249.5" y="379.54" font-size="2.9" fill="#000" text-anchor="middle" font-weight="bold">11%</text>
<rect x="245.6" y="381.32" width="7.8" height="3.6" fill="#D4D4D4"/>
<line x1="245.9" y1="381.32" x2="245.9" y2="384.92" stroke="#222" stroke-width="0.75"/>
<line x1="253.1" y1="381.32" x2="253.1" y2="384.92" stroke="#222" stroke-width="0.75"/>
<text x="249.5" y="384.12" font-size="2.9" fill="#000" text-anchor="middle" font-weight="bold">6%</text>
<rect x="245.6" y="385.9" width="7.8" height="3.6" fill="#D4D4D4"/>
<line x1="245.9" y1="385.9" x2="245.9" y2="389.5" stroke="#222" stroke-width="0.75"/>
<line x1="253.1" y1="385.9" x2="253.1" y2="389.5" stroke="#222" stroke-width="0.75"/>
<text x="249.5" y="388.7" font-size="2.9" fill="#000" text-anchor="middle" font-weight="bold">27%</text>
<rect x="245.6" y="390.48" width="7.8" height="3.6" fill="#D4D4D4"/>
<line x1="245.9" y1="390.48" x2="245.9" y2="394.08" stroke="#222" stroke-width="0.75"/>
<line x1="253.1" y1="390.48" x2="253.1" y2="394.08" stroke="#222" stroke-width="0.75"/>
<text x="249.5" y="393.28" font-size="2.9" fill="#000" text-anchor="middle" font-weight="bold">13%</text>
<rect x="245.6" y="395.06" width="7.8" height="3.6" fill="#D4D4D4"/>
<line x1="245.9" y1="395.06" x2="245.9" y2="398.66" stroke="#222" stroke-width="0.75"/>
<line x1="253.1" y1="395.06" x2="253.1" y2="398.66" stroke="#222" stroke-width="0.75"/>
<text x="249.5" y="397.86" font-size="2.9" fill="#000" text-anchor="middle" font-weight="bold">25%</text>
<rect x="245.6" y="399.63" width="7.8" height="3.6" fill="#D4D4D4"/>
<line x1="245.9" y1="399.63" x2="245.9" y2="403.23" stroke="#222" stroke-width="0.75"/>
<line x1="253.1" y1="399.63" x2="253.1" y2="403.23" stroke="#222" stroke-width="0.75"/>
<text x="249.5" y="402.43" font-size="2.9" fill="#000" text-anchor="middle" font-weight="bold">6%</text>
<rect x="245.6" y="404.21" width="7.8" height="3.6" fill="#D4D4D4"/>
<line x1="245.9" y1="404.21" x2="245.9" y2="407.81" stroke="#222" stroke-width="0.75"/>
<line x1="253.1" y1="404.21" x2="253.1" y2="407.81" stroke="#222" stroke-width="0.75"/>
<text x="249.5" y="407.01" font-size="2.9" fill="#000" text-anchor="middle" font-weight="bold">16%</text>
<rect x="245.6" y="408.79" width="7.8" height="3.6" fill="#D4D4D4"/>
<line x1="245.9" y1="408.79" x2="245.9" y2="412.39" stroke="#222" stroke-width="0.75"/>
<line x1="253.1" y1="408.79" x2="253.1" y2="412.39" stroke="#222" stroke-width="0.75"/>
<text x="249.5" y="411.59" font-size="2.9" fill="#000" text-anchor="middle" font-weight="bold">17%</text>
<rect x="245.6" y="413.37" width="7.8" height="3.6" fill="#D4D4D4"/>
<line x1="245.9" y1="413.37" x2="245.9" y2="416.97" stroke="#222" stroke-width="0.75"/>
<line x1="253.1" y1="413.37" x2="253.1" y2="416.97" stroke="#222" stroke-width="0.75"/>
<text x="249.5" y="416.17" font-size="2.9" fill="#000" text-anchor="middle" font-weight="bold">6%</text>
<rect x="245.6" y="417.94" width="7.8" height="3.6" fill="#D4D4D4"/>
<line x1="245.9" y1="417.94" x2="245.9" y2="421.54" stroke="#222" stroke-width="0.75"/>
<line x1="253.1" y1="417.94" x2="253.1" y2="421.54" stroke="#222" stroke-width="0.75"/>
<text x="249.5" y="420.74" font-size="2.9" fill="#000" text-anchor="middle" font-weight="bold">13%</text>
<rect x="245.6" y="422.52" width="7.8" height="3.6" fill="#D4D4D4"/>
<line x1="245.9" y1="422.52" x2="245.9" y2="426.12" stroke="#222" stroke-width="0.75"/>
<line x1="253.1" y1="422.52" x2="253.1" y2="426.12" stroke="#222" stroke-width="0.75"/>
<text x="249.5" y="425.32" font-size="2.9" fill="#000" text-anchor="middle" font-weight="bold">11%</text>
<rect x="245.6" y="427.1" width="7.8" height="3.6" fill="#D4D4D4"/>
<line x1="245.9" y1="427.1" x2="245.9" y2="430.7" stroke="#222" stroke-width="0.75"/>
<line x1="253.1" y1="427.1" x2="253.1" y2="430.7" stroke="#222" stroke-width="0.75"/>
<text x="249.5" y="429.9" font-size="2.9" fill="#000" text-anchor="middle" font-weight="bold">17%</text>
<rect x="245.6" y="431.68" width="7.8" height="3.6" fill="#D4D4D4"/>
<line x1="245.9" y1="431.68" x2="245.9" y2="435.28" stroke="#222" stroke-width="0.75"/>
<line x1="253.1" y1="431.68" x2="253.1" y2="435.28" stroke="#222" stroke-width="0.75"/>
<text x="249.5" y="434.48" font-size="2.9" fill="#000" text-anchor="middle" font-weight="bold">2%</text>
<rect x="245.6" y="436.26" width="7.8" height="3.6" fill="#D4D4D4"/>
<line x1="245.9" y1="436.26" x2="245.9" y2="439.86" stroke="#222" stroke-width="0.75"/>
<line x1="253.1" y1="436.26" x2="253.1" y2="439.86" stroke="#222" stroke-width="0.75"/>
<text x="249.5" y="439.06" font-size="2.9" fill="#000" text-anchor="middle" font-weight="bold">17%</text>
<rect x="245.6" y="440.83" width="7.8" height="3.6" fill="#D4D4D4"/>
<line x1="245.9" y1="440.83" x2="245.9" y2="444.43" stroke="#222" stroke-width="0.75"/>
<line x1="253.1" y1="440.83" x2="253.1" y2="444.43" stroke="#222" stroke-width="0.75"/>
<text x="249.5" y="443.63" font-size="2.9" fill="#000" text-anchor="middle" font-weight="bold">6%</text>
<rect x="245.6" y="445.41" width="7.8" height="3.6" fill="#D4D4D4"/>
<line x1="245.9" y1="445.41" x2="245.9" y2="449.01" stroke="#222" stroke-width="0.75"/>
<line x1="253.1" y1="445.41" x2="253.1" y2="449.01" stroke="#222" stroke-width="0.75"/>
<text x="249.5" y="448.21" font-size="2.9" fill="#000" text-anchor="middle" font-weight="bold">10%</text>
<rect x="245.6" y="449.99" width="7.8" height="3.6" fill="#D4D4D4"/>
<line x1="245.9" y1="449.99" x2="245.9" y2="453.59" stroke="#222" stroke-width="0.75"/>
<line x1="253.1" y1="449.99" x2="253.1" y2="453.59" stroke="#222" stroke-width="0.75"/>
<text x="249.5" y="452.79" font-size="2.9" fill="#000" text-anchor="middle" font-weight="bold">10%</text>
<rect x="245.6" y="454.57" width="7.8" height="3.6" fill="#D4D4D4"/>
<line x1="245.9" y1="454.57" x2="245.9" y2="458.17" stroke="#222" stroke-width="0.75"/>
<line x1="253.1" y1="454.57" x2="253.1" y2="458.17" stroke="#222" stroke-width="0.75"/>
<text x="249.5" y="457.37" font-size="2.9" fill="#000" text-anchor="middle" font-weight="bold">16%</text>
<rect x="245.6" y="459.14" width="7.8" height="3.6" fill="#D4D4D4"/>
<line x1="245.9" y1="459.14" x2="245.9" y2="462.74" stroke="#222" stroke-width="0.75"/>
<line x1="253.1" y1="459.14" x2="253.1" y2="462.74" stroke="#222" stroke-width="0.75"/>
<text x="249.5" y="461.94" font-size="2.9" fill="#000" text-anchor="middle" font-weight="bold">8%</text>
<rect x="245.6" y="463.72" width="7.8" height="3.6" fill="#D4D4D4"/>
<line x1="245.9" y1="463.72" x2="245.9" y2="467.32" stroke="#222" stroke-width="0.75"/>
<line x1="253.1" y1="463.72" x2="253.1" y2="467.32" stroke="#222" stroke-width="0.75"/>
<text x="249.5" y="466.52" font-size="2.9" fill="#000" text-anchor="middle" font-weight="bold">11%</text>
<rect x="245.6" y="468.3" width="7.8" height="3.6" fill="#D4D4D4"/>
<line x1="245.9" y1="468.3" x2="245.9" y2="471.9" stroke="#222" stroke-width="0.75"/>
<line x1="253.1" y1="468.3" x2="253.1" y2="471.9" stroke="#222" stroke-width="0.75"/>
<text x="249.5" y="471.1" font-size="2.9" fill="#000" text-anchor="middle" font-weight="bold">11%</text>
<rect x="245.6" y="472.88" width="7.8" height="3.6" fill="#D4D4D4"/>
<line x1="245.9" y1="472.88" x2="245.9" y2="476.48" stroke="#222" stroke-width="0.75"/>
<line x1="253.1" y1="472.88" x2="253.1" y2="476.48" stroke="#222" stroke-width="0.75"/>
<text x="249.5" y="475.68" font-size="2.9" fill="#000" text-anchor="middle" font-weight="bold">13%</text>
<rect x="245.6" y="477.46" width="7.8" height="3.6" fill="#D4D4D4"/>
<line x1="245.9" y1="477.46" x2="245.9" y2="481.06" stroke="#222" stroke-width="0.75"/>
<line x1="253.1" y1="477.46" x2="253.1" y2="481.06" stroke="#222" stroke-width="0.75"/>
<text x="249.5" y="480.26" font-size="2.9" fill="#000" text-anchor="middle" font-weight="bold">8%</text>
<rect x="245.6" y="482.03" width="7.8" height="3.6" fill="#D4D4D4"/>
<line x1="245.9" y1="482.03" x2="245.9" y2="485.63" stroke="#222" stroke-width="0.75"/>
<line x1="253.1" y1="482.03" x2="253.1" y2="485.63" stroke="#222" stroke-width="0.75"/>
<text x="249.5" y="484.83" font-size="2.9" fill="#000" text-anchor="middle" font-weight="bold">8%</text>
<rect x="245.6" y="486.61" width="7.8" height="3.6" fill="#D4D4D4"/>
<line x1="245.9" y1="486.61" x2="245.9" y2="490.21" stroke="#222" stroke-width="0.75"/>
<line x1="253.1" y1="486.61" x2="253.1" y2="490.21" stroke="#222" stroke-width="0.75"/>
<text x="249.5" y="489.41" font-size="2.9" fill="#000" text-anchor="middle" font-weight="bold">3%</text>
<rect x="245.6" y="491.19" width="7.8" height="3.6" fill="#D4D4D4"/>
<line x1="245.9" y1="491.19" x2="245.9" y2="494.79" stroke="#222" stroke-width="0.75"/>
<line x1="253.1" y1="491.19" x2="253.1" y2="494.79" stroke="#222" stroke-width="0.75"/>
<text x="249.5" y="493.99" font-size="2.9" fill="#000" text-anchor="middle" font-weight="bold">5%</text>
<rect x="245.6" y="495.77" width="7.8" height="3.6" fill="#D4D4D4"/>
<line x1="245.9" y1="495.77" x2="245.9" y2="499.37" stroke="#222" stroke-width="0.75"/>
<line x1="253.1" y1="495.77" x2="253.1" y2="499.37" stroke="#222" stroke-width="0.75"/>
<text x="249.5" y="498.57" font-size="2.9" fill="#000" text-anchor="middle" font-weight="bold">6%</text>
<rect x="245.6" y="500.34" width="7.8" height="3.6" fill="#D4D4D4"/>
<line x1="245.9" y1="500.34" x2="245.9" y2="503.94" stroke="#222" stroke-width="0.75"/>
<line x1="253.1" y1="500.34" x2="253.1" y2="503.94" stroke="#222" stroke-width="0.75"/>
<text x="249.5" y="503.14" font-size="2.9" fill="#000" text-anchor="middle" font-weight="bold">10%</text>
<rect x="245.6" y="504.92" width="7.8" height="3.6" fill="#D4D4D4"/>
<line x1="245.9" y1="504.92" x2="245.9" y2="508.52" stroke="#222" stroke-width="0.75"/>
<line x1="253.1" y1="504.92" x2="253.1" y2="508.52" stroke="#222" stroke-width="0.75"/>
<text x="249.5" y="507.72" font-size="2.9" fill="#000" text-anchor="middle" font-weight="bold">8%</text>
<rect x="245.6" y="509.5" width="7.8" height="3.6" fill="#D4D4D4"/>
<line x1="245.9" y1="509.5" x2="245.9" y2="513.1" stroke="#222" stroke-width="0.75"/>
<line x1="253.1" y1="509.5" x2="253.1" y2="513.1" stroke="#222" stroke-width="0.75"/>
<text x="249.5" y="512.3" font-size="2.9" fill="#000" text-anchor="middle" font-weight="bold">11%</text>
<rect x="245.6" y="514.08" width="7.8" height="3.6" fill="#D4D4D4"/>
<line x1="245.9" y1="514.08" x2="245.9" y2="517.68" stroke="#222" stroke-width="0.75"/>
<line x1="253.1" y1="514.08" x2="253.1" y2="517.68" stroke="#222" stroke-width="0.75"/>
<text x="249.5" y="516.88" font-size="2.9" fill="#000" text-anchor="middle" font-weight="bold">5%</text>
<rect x="245.6" y="518.66" width="7.8" height="3.6" fill="#D4D4D4"/>
<line x1="245.9" y1="518.66" x2="245.9" y2="522.26" stroke="#222" stroke-width="0.75"/>
<line x1="253.1" y1="518.66" x2="253.1" y2="522.26" stroke="#222" stroke-width="0.75"/>
<text x="249.5" y="521.46" font-size="2.9" fill="#000" text-anchor="middle" font-weight="bold">8%</text>
<rect x="245.6" y="523.23" width="7.8" height="3.6" fill="#D4D4D4"/>
<line x1="245.9" y1="523.23" x2="245.9" y2="526.83" stroke="#222" stroke-width="0.75"/>
<line x1="253.1" y1="523.23" x2="253.1" y2="526.83" stroke="#222" stroke-width="0.75"/>
<text x="249.5" y="526.03" font-size="2.9" fill="#000" text-anchor="middle" font-weight="bold">10%</text>
<rect x="245.6" y="527.81" width="7.8" height="3.6" fill="#D4D4D4"/>
<line x1="245.9" y1="527.81" x2="245.9" y2="531.41" stroke="#222" stroke-width="0.75"/>
<line x1="253.1" y1="527.81" x2="253.1" y2="531.41" stroke="#222" stroke-width="0.75"/>
<text x="249.5" y="530.61" font-size="2.9" fill="#000" text-anchor="middle" font-weight="bold">3%</text>
<rect x="254.8" y="321.8" width="1.9" height="5.2" fill="#46207A" stroke="#000" stroke-width="0.6"/>
<text x="258.1" y="325.7" font-size="3.75" fill="#111" stroke="#111" stroke-width="0.1">&gt;7cm</text>
<rect x="290.8" y="321.8" width="1.9" height="5.2" fill="#fff" stroke="#000" stroke-width="0.6"/>
<text x="294.2" y="325.7" font-size="3.75" fill="#111" stroke="#111" stroke-width="0.1">&lt;7cm</text>
<rect x="254.8" y="330" width="1.9" height="4.9" fill="#D26A1A" stroke="#000" stroke-width="0.6"/>
<text x="258.1" y="333.75" font-size="3.75" fill="#111" stroke="#111" stroke-width="0.1">GCB</text>
<rect x="290.8" y="330" width="1.9" height="4.9" fill="#95481A" stroke="#000" stroke-width="0.6"/>
<text x="294.2" y="333.75" font-size="3.75" fill="#111" stroke="#111" stroke-width="0.1">Intermediate/Unclassifiable</text>
<rect x="254.8" y="334.9" width="1.9" height="4.7" fill="#1C7DB8" stroke="#000" stroke-width="0.6"/>
<text x="258.1" y="338.55" font-size="3.75" fill="#111" stroke="#111" stroke-width="0.1">ABC</text>
<rect x="290.8" y="334.9" width="1.9" height="4.7" fill="#7C7C7C" stroke="#000" stroke-width="0.6"/>
<text x="294.2" y="338.55" font-size="3.75" fill="#111" stroke="#111" stroke-width="0.1">Unknown</text>
<rect x="254.8" y="342" width="1.9" height="4.8" fill="#2B8F55" stroke="#000" stroke-width="0.6"/>
<text x="258.1" y="345.7" font-size="3.75" fill="#111" stroke="#111" stroke-width="0.1">Positive</text>
<rect x="290.8" y="342" width="1.9" height="4.8" fill="#3A3A3A" stroke="#000" stroke-width="0.6"/>
<text x="294.2" y="345.7" font-size="3.75" fill="#111" stroke="#111" stroke-width="0.1">Failed</text>
<rect x="254.8" y="346.8" width="1.9" height="4.8" fill="#fff" stroke="#000" stroke-width="0.6"/>
<text x="258.1" y="350.5" font-size="3.75" fill="#111" stroke="#111" stroke-width="0.1">Negative</text>
<rect x="254.8" y="351.6" width="1.9" height="4.4" fill="#7C7C7C" stroke="#000" stroke-width="0.6"/>
<text x="258.1" y="355.1" font-size="3.75" fill="#111" stroke="#111" stroke-width="0.1">Unknown</text>
<rect x="256.2" y="367" width="1.9" height="5" fill="#e8e8e8" stroke="#000" stroke-width="0.6"/>
<text x="259.6" y="370.8" font-size="3.75" fill="#111" stroke="#111" stroke-width="0.1">Wildtype</text>
<rect x="256.2" y="372" width="1.9" height="4.8" fill="#2B8F55" stroke="#000" stroke-width="0.6"/>
<text x="259.6" y="375.7" font-size="3.75" fill="#111" stroke="#111" stroke-width="0.1">Mutated</text>
<rect x="256.2" y="376.8" width="1.9" height="4.8" fill="#A3301D" stroke="#000" stroke-width="0.6"/>
<text x="259.6" y="380.5" font-size="3.75" fill="#111" stroke="#111" stroke-width="0.1">Hotspot mutation</text>
<line x1="40.8" y1="553.5" x2="40.8" y2="668.7" stroke="#111" stroke-width="1.2"/>
<line x1="40.2" y1="668.2" x2="352.5" y2="668.2" stroke="#111" stroke-width="1.2"/>
<line x1="39" y1="668.2" x2="40.8" y2="668.2" stroke="#111" stroke-width="0.9"/>
<text x="37.7" y="670.75" font-size="7.7" fill="#222" text-anchor="end">0%</text>
<line x1="39" y1="652.48" x2="40.8" y2="652.48" stroke="#111" stroke-width="0.9"/>
<text x="37.7" y="655.03" font-size="7.7" fill="#222" text-anchor="end">5%</text>
<line x1="39" y1="636.76" x2="40.8" y2="636.76" stroke="#111" stroke-width="0.9"/>
<text x="37.7" y="639.31" font-size="7.7" fill="#222" text-anchor="end">10%</text>
<line x1="39" y1="621.04" x2="40.8" y2="621.04" stroke="#111" stroke-width="0.9"/>
<text x="37.7" y="623.59" font-size="7.7" fill="#222" text-anchor="end">15%</text>
<line x1="39" y1="605.32" x2="40.8" y2="605.32" stroke="#111" stroke-width="0.9"/>
<text x="37.7" y="607.87" font-size="7.7" fill="#222" text-anchor="end">20%</text>
<line x1="39" y1="589.6" x2="40.8" y2="589.6" stroke="#111" stroke-width="0.9"/>
<text x="37.7" y="592.15" font-size="7.7" fill="#222" text-anchor="end">25%</text>
<line x1="39" y1="573.88" x2="40.8" y2="573.88" stroke="#111" stroke-width="0.9"/>
<text x="37.7" y="576.43" font-size="7.7" fill="#222" text-anchor="end">30%</text>
<line x1="39" y1="558.16" x2="40.8" y2="558.16" stroke="#111" stroke-width="0.9"/>
<text x="37.7" y="560.71" font-size="7.7" fill="#222" text-anchor="end">35%</text>
<rect x="51.75" y="566.25" width="8.9" height="101.95" fill="#15508A"/>
<rect x="63.05" y="628.75" width="8.9" height="39.45" fill="#3DB54A"/>
<rect x="74.35" y="622.5" width="8.9" height="45.7" fill="#C8102E"/>
<line x1="67.5" y1="668.2" x2="67.5" y2="670" stroke="#111" stroke-width="0.7"/>
<text x="67.5" y="678" font-size="7" fill="#222" text-anchor="middle">B2M</text>
<rect x="103" y="585" width="8.9" height="83.2" fill="#15508A"/>
<rect x="114.3" y="649.25" width="8.9" height="18.95" fill="#3DB54A"/>
<rect x="125.6" y="618.75" width="8.9" height="49.45" fill="#C8102E"/>
<line x1="118.75" y1="668.2" x2="118.75" y2="670" stroke="#111" stroke-width="0.7"/>
<text x="118.75" y="678" font-size="7" fill="#222" text-anchor="middle">EZH2</text>
<rect x="153.25" y="576.25" width="8.9" height="91.95" fill="#15508A"/>
<rect x="164.55" y="633.75" width="8.9" height="34.45" fill="#3DB54A"/>
<rect x="175.85" y="625.75" width="8.9" height="42.45" fill="#C8102E"/>
<line x1="169" y1="668.2" x2="169" y2="670" stroke="#111" stroke-width="0.7"/>
<text x="169" y="678" font-size="7" fill="#222" text-anchor="middle">IRF8</text>
<rect x="203.5" y="566.75" width="8.9" height="101.45" fill="#15508A"/>
<rect x="214.8" y="643.75" width="8.9" height="24.45" fill="#3DB54A"/>
<rect x="226.1" y="601.75" width="8.9" height="66.45" fill="#C8102E"/>
<line x1="219.25" y1="668.2" x2="219.25" y2="670" stroke="#111" stroke-width="0.7"/>
<text x="219.25" y="678" font-size="7" fill="#222" text-anchor="middle">TNFRS14</text>
<rect x="256.5" y="603.75" width="8.9" height="64.45" fill="#15508A"/>
<rect x="267.8" y="573.75" width="8.9" height="94.45" fill="#3DB54A"/>
<rect x="279.1" y="568.25" width="8.9" height="99.95" fill="#C8102E"/>
<line x1="272.25" y1="668.2" x2="272.25" y2="670" stroke="#111" stroke-width="0.7"/>
<text x="272.25" y="678" font-size="7" fill="#222" text-anchor="middle">KMT2D</text>
<rect x="306.5" y="613.25" width="8.9" height="54.95" fill="#15508A"/>
<rect x="317.8" y="578.25" width="8.9" height="89.95" fill="#3DB54A"/>
<rect x="329.1" y="621.75" width="8.9" height="46.45" fill="#C8102E"/>
<line x1="322.25" y1="668.2" x2="322.25" y2="670" stroke="#111" stroke-width="0.7"/>
<text x="322.25" y="678" font-size="7" fill="#222" text-anchor="middle">TP53</text>
<line x1="55" y1="563.6" x2="65" y2="563.6" stroke="#111" stroke-width="1"/>
<text x="60" y="564.3" font-size="6.5" fill="#000" text-anchor="middle" font-weight="bold">*</text>
<line x1="55" y1="557.25" x2="77.5" y2="557.25" stroke="#111" stroke-width="1"/>
<text x="66.25" y="557.95" font-size="6.5" fill="#000" text-anchor="middle" font-weight="bold">*</text>
<line x1="107.5" y1="582.5" x2="118" y2="582.5" stroke="#111" stroke-width="1"/>
<text x="112.75" y="583.2" font-size="6.5" fill="#000" text-anchor="middle" font-weight="bold">*</text>
<line x1="120.5" y1="616" x2="130.5" y2="616" stroke="#111" stroke-width="1"/>
<text x="125.5" y="616.7" font-size="6.5" fill="#000" text-anchor="middle" font-weight="bold">*</text>
<line x1="157.7" y1="573.3" x2="167.9" y2="573.3" stroke="#111" stroke-width="1"/>
<text x="162.8" y="574" font-size="6.5" fill="#000" text-anchor="middle" font-weight="bold">*</text>
<line x1="157.7" y1="567.5" x2="180.4" y2="567.5" stroke="#111" stroke-width="1"/>
<text x="169.05" y="568.2" font-size="6.5" fill="#000" text-anchor="middle" font-weight="bold">*</text>
<line x1="208" y1="563.5" x2="218.25" y2="563.5" stroke="#111" stroke-width="1"/>
<text x="213.12" y="564.2" font-size="6.5" fill="#000" text-anchor="middle" font-weight="bold">*</text>
<line x1="220.9" y1="598.3" x2="230.6" y2="598.3" stroke="#111" stroke-width="1"/>
<text x="225.75" y="599" font-size="6.5" fill="#000" text-anchor="middle" font-weight="bold">*</text>
<line x1="322.5" y1="576.5" x2="332.5" y2="576.5" stroke="#111" stroke-width="1"/>
<text x="327.5" y="577.2" font-size="6.5" fill="#000" text-anchor="middle" font-weight="bold">*</text>
<rect x="111" y="687.5" width="4" height="4.2" fill="#15508A"/>
<text x="117.3" y="691.5" font-size="5.8" fill="#222" stroke="#222" stroke-width="0.12">PB-DLBCL</text>
<rect x="154" y="687.5" width="4" height="4.2" fill="#3DB54A"/>
<text x="160" y="691.5" font-size="5.8" fill="#222" stroke="#222" stroke-width="0.12">NO-DLBCL-GCB</text>
<rect x="212.5" y="687.5" width="4" height="4.2" fill="#C8102E"/>
<text x="218.8" y="691.5" font-size="5.8" fill="#222" stroke="#222" stroke-width="0.12">Literature DLBCL-GCB</text>
</svg>
</body></html>
